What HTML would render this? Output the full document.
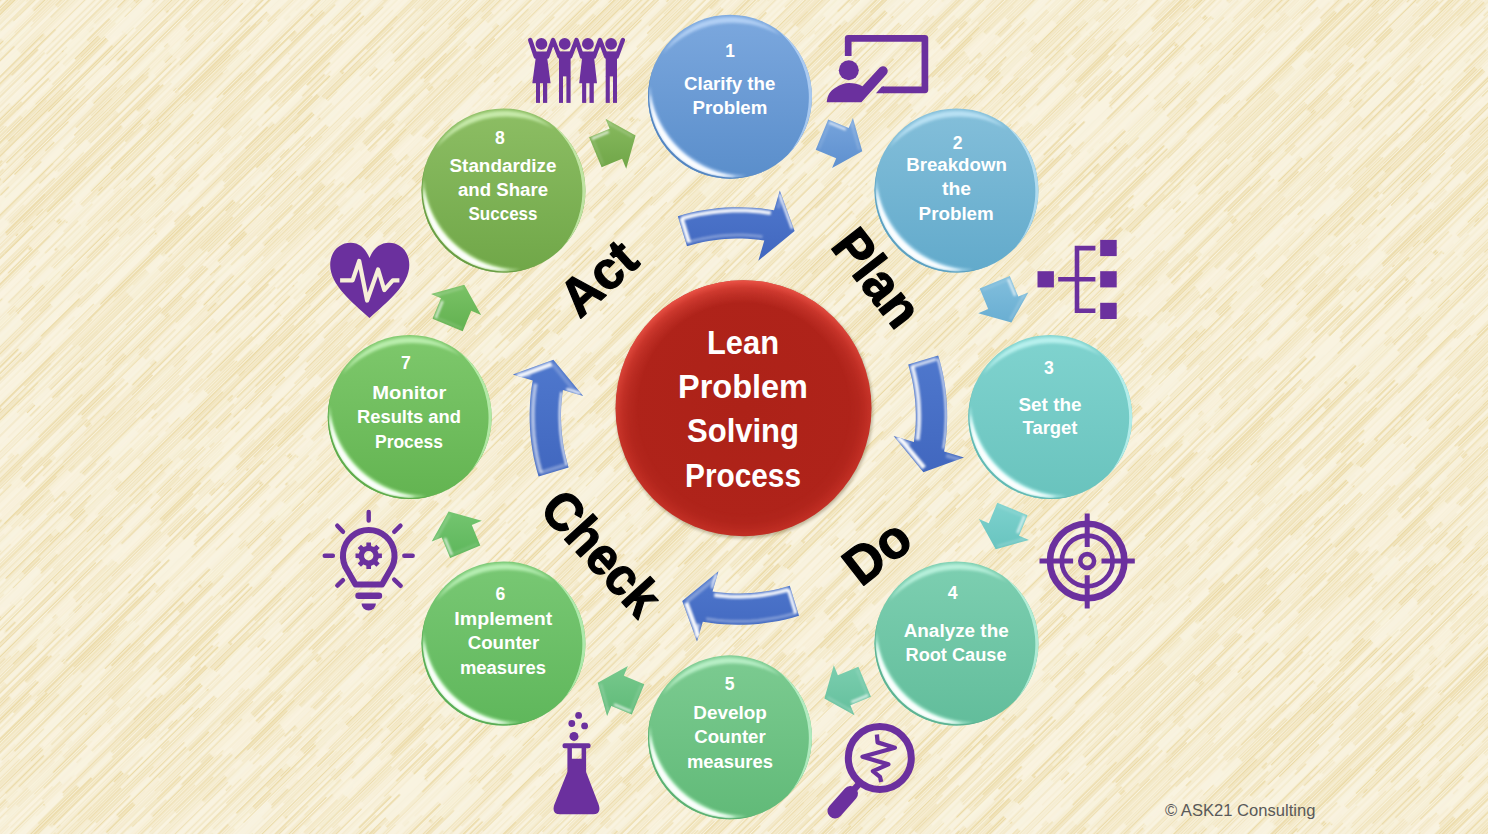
<!DOCTYPE html>
<html lang="en"><head><meta charset="utf-8"><title>Lean Problem Solving Process</title>
<style>html,body{margin:0;padding:0;background:#F9F3E0;overflow:hidden}svg{display:block}</style></head>
<body>
<svg width="1488" height="834" viewBox="0 0 1488 834">
<defs><pattern id="bgp" patternUnits="userSpaceOnUse" width="480" height="329" patternTransform="rotate(-44.5)"><g fill="#EBDAA6"><rect x="259.5" y="0" width="47.7" height="1.5" opacity="0.2"/><rect x="307.2" y="0" width="137" height="1.3" opacity="0.5"/><rect x="444.2" y="0" width="35.8" height="1.3" opacity="0.85"/><rect x="0" y="0" width="14.2" height="1.3" opacity="0.85"/><rect x="14.2" y="0" width="77.1" height="1.3" opacity="0.85"/><rect x="91.4" y="0" width="64.1" height="1.3" opacity="0.2"/><rect x="302.7" y="2.4" width="136" height="1.3" opacity="0.85"/><rect x="164.5" y="2.4" width="132.4" height="1.5" opacity="0.35"/><rect x="297" y="2.4" width="5.7" height="1.7" opacity="0.2"/><rect x="148.1" y="4.7" width="53" height="1.5" opacity="0.5"/><rect x="201.1" y="4.7" width="52.1" height="1.7" opacity="0.2"/><rect x="253.2" y="4.7" width="45.4" height="1.5" opacity="0.5"/><rect x="298.6" y="4.7" width="154.1" height="1.5" opacity="0.85"/><rect x="452.7" y="4.7" width="27.3" height="1.5" opacity="1.0"/><rect x="0" y="4.7" width="89.1" height="1.5" opacity="1.0"/><rect x="89.1" y="4.7" width="58.9" height="1.7" opacity="0.35"/><rect x="374.3" y="7.1" width="105.7" height="1.5" opacity="1.0"/><rect x="0" y="7.1" width="29.8" height="1.5" opacity="1.0"/><rect x="29.8" y="7.1" width="162.7" height="1.7" opacity="0.6"/><rect x="192.5" y="7.1" width="181.8" height="1.7" opacity="0.2"/><rect x="200.7" y="9.4" width="61.6" height="1.5" opacity="1.0"/><rect x="262.3" y="9.4" width="41.9" height="1.7" opacity="0.3"/><rect x="304.2" y="9.4" width="135.3" height="1.5" opacity="0.8"/><rect x="439.4" y="9.4" width="40.6" height="1.7" opacity="1.0"/><rect x="0" y="9.4" width="116.1" height="1.7" opacity="1.0"/><rect x="116.1" y="9.4" width="84.6" height="1.3" opacity="0.3"/><rect x="453.4" y="11.8" width="26.6" height="1.3" opacity="0.35"/><rect x="0" y="11.8" width="130.4" height="1.3" opacity="0.35"/><rect x="130.4" y="11.8" width="163" height="1.7" opacity="0.75"/><rect x="293.4" y="11.8" width="136.1" height="1.5" opacity="1.0"/><rect x="429.5" y="11.8" width="23.9" height="1.3" opacity="0.85"/><rect x="451.5" y="14.1" width="28.5" height="1.5" opacity="0.3"/><rect x="0" y="14.1" width="35.9" height="1.5" opacity="0.3"/><rect x="35.9" y="14.1" width="45.3" height="1.3" opacity="0.7"/><rect x="81.2" y="14.1" width="164.2" height="1.5" opacity="0.95"/><rect x="245.5" y="14.1" width="195.4" height="1.3" opacity="1.0"/><rect x="440.9" y="14.1" width="10.6" height="1.7" opacity="0.95"/><rect x="133.4" y="16.4" width="178.4" height="1.7" opacity="0.6"/><rect x="311.7" y="16.4" width="107.7" height="1.7" opacity="0.7"/><rect x="419.4" y="16.4" width="60.6" height="1.3" opacity="0.5"/><rect x="0" y="16.4" width="129.1" height="1.3" opacity="0.5"/><rect x="129.1" y="16.4" width="4.2" height="1.3" opacity="0.35"/><rect x="316.1" y="18.8" width="119.9" height="1.5" opacity="0.35"/><rect x="436" y="18.8" width="44" height="1.5" opacity="0.35"/><rect x="0" y="18.8" width="40.3" height="1.5" opacity="0.35"/><rect x="40.3" y="18.8" width="128.6" height="1.3" opacity="0.7"/><rect x="219.2" y="21.2" width="104.7" height="1.3" opacity="1.0"/><rect x="323.9" y="21.2" width="119.3" height="1.3" opacity="1.0"/><rect x="443.1" y="21.2" width="36.9" height="1.5" opacity="0.65"/><rect x="0" y="21.2" width="31.5" height="1.5" opacity="0.65"/><rect x="31.5" y="21.2" width="63.4" height="1.7" opacity="0.85"/><rect x="139.1" y="21.2" width="80.1" height="1.5" opacity="0.35"/><rect x="294.6" y="23.5" width="185.4" height="1.3" opacity="0.85"/><rect x="0" y="23.5" width="2.6" height="1.3" opacity="0.85"/><rect x="2.6" y="23.5" width="146" height="1.7" opacity="0.7"/><rect x="148.6" y="23.5" width="98.7" height="1.3" opacity="0.2"/><rect x="247.4" y="23.5" width="47.2" height="1.5" opacity="1.0"/><rect x="232.2" y="25.9" width="60.2" height="1.7" opacity="0.7"/><rect x="292.5" y="25.9" width="81.3" height="1.7" opacity="0.35"/><rect x="373.8" y="25.9" width="39" height="1.3" opacity="0.7"/><rect x="88.6" y="25.9" width="143.6" height="1.7" opacity="0.6"/><rect x="414.4" y="28.2" width="65.6" height="1.5" opacity="0.45"/><rect x="0" y="28.2" width="60.1" height="1.5" opacity="0.45"/><rect x="60.1" y="28.2" width="170.1" height="1.7" opacity="0.8"/><rect x="230.2" y="28.2" width="74" height="1.3" opacity="0.6"/><rect x="304.2" y="28.2" width="110.2" height="1.3" opacity="0.6"/><rect x="411.4" y="30.6" width="68.6" height="1.5" opacity="1.0"/><rect x="0" y="30.6" width="104.7" height="1.5" opacity="1.0"/><rect x="104.7" y="30.6" width="68.9" height="1.5" opacity="0.8"/><rect x="173.6" y="30.6" width="74.9" height="1.5" opacity="0.8"/><rect x="38.7" y="32.9" width="74.7" height="1.5" opacity="0.5"/><rect x="184.1" y="32.9" width="118.9" height="1.7" opacity="0.7"/><rect x="303" y="32.9" width="49.8" height="1.5" opacity="0.2"/><rect x="352.9" y="32.9" width="127.1" height="1.5" opacity="0.5"/><rect x="0" y="32.9" width="38.7" height="1.5" opacity="0.5"/><rect x="426.7" y="35.2" width="53.3" height="1.3" opacity="0.85"/><rect x="0" y="35.2" width="119.8" height="1.3" opacity="0.85"/><rect x="119.8" y="35.2" width="175.1" height="1.5" opacity="1.0"/><rect x="295" y="35.2" width="105.2" height="1.7" opacity="0.35"/><rect x="400.2" y="35.2" width="26.5" height="1.3" opacity="0.5"/><rect x="72.6" y="37.6" width="176.1" height="1.7" opacity="0.5"/><rect x="248.7" y="37.6" width="179.6" height="1.7" opacity="1.0"/><rect x="428.3" y="37.6" width="51.7" height="1.7" opacity="0.5"/><rect x="0" y="37.6" width="72.6" height="1.7" opacity="0.5"/><rect x="263.2" y="40" width="37.5" height="1.7" opacity="0.2"/><rect x="300.7" y="40" width="166.2" height="1.5" opacity="0.35"/><rect x="466.8" y="40" width="13.2" height="1.3" opacity="0.5"/><rect x="0" y="40" width="194.5" height="1.3" opacity="0.5"/><rect x="194.5" y="40" width="39.9" height="1.5" opacity="0.5"/><rect x="234.4" y="40" width="28.8" height="1.5" opacity="0.7"/><rect x="261.3" y="42.3" width="45.7" height="1.5" opacity="0.7"/><rect x="306.9" y="42.3" width="150.9" height="1.7" opacity="0.85"/><rect x="457.9" y="42.3" width="22.1" height="1.7" opacity="0.35"/><rect x="0" y="42.3" width="35.8" height="1.7" opacity="0.35"/><rect x="35.8" y="42.3" width="124.3" height="1.3" opacity="1.0"/><rect x="160.1" y="42.3" width="101.2" height="1.3" opacity="0.35"/><rect x="67.9" y="44.6" width="132.4" height="1.7" opacity="0.7"/><rect x="200.3" y="44.6" width="125.7" height="1.3" opacity="1.0"/><rect x="35.6" y="44.6" width="32.3" height="1.3" opacity="0.6"/><rect x="370.7" y="47" width="109.3" height="1.5" opacity="0.35"/><rect x="0" y="47" width="24" height="1.5" opacity="0.35"/><rect x="24" y="47" width="92" height="1.7" opacity="0.65"/><rect x="116" y="47" width="83.5" height="1.7" opacity="1.0"/><rect x="199.5" y="47" width="171.2" height="1.7" opacity="0.75"/><rect x="428.5" y="49.4" width="51.5" height="1.5" opacity="0.35"/><rect x="0" y="49.4" width="130.5" height="1.5" opacity="0.35"/><rect x="130.5" y="49.4" width="56.3" height="1.5" opacity="1.0"/><rect x="186.8" y="49.4" width="47.7" height="1.5" opacity="0.5"/><rect x="234.5" y="49.4" width="47.8" height="1.3" opacity="0.6"/><rect x="282.3" y="49.4" width="146.2" height="1.7" opacity="0.35"/><rect x="308.9" y="51.7" width="60" height="1.5" opacity="0.45"/><rect x="368.9" y="51.7" width="73.4" height="1.5" opacity="0.3"/><rect x="442.3" y="51.7" width="37.7" height="1.7" opacity="0.45"/><rect x="0" y="51.7" width="152.2" height="1.7" opacity="0.45"/><rect x="152.2" y="51.7" width="156.7" height="1.7" opacity="0.45"/><rect x="207.1" y="54.1" width="94.3" height="1.5" opacity="0.65"/><rect x="301.5" y="54.1" width="90.7" height="1.3" opacity="0.85"/><rect x="392.2" y="54.1" width="87.8" height="1.5" opacity="1.0"/><rect x="0" y="54.1" width="6.4" height="1.5" opacity="1.0"/><rect x="6.4" y="54.1" width="158.1" height="1.5" opacity="1.0"/><rect x="164.4" y="54.1" width="42.7" height="1.7" opacity="0.75"/><rect x="461.2" y="56.4" width="18.8" height="1.3" opacity="0.5"/><rect x="0" y="56.4" width="188.6" height="1.3" opacity="0.5"/><rect x="188.6" y="56.4" width="49.7" height="1.3" opacity="0.6"/><rect x="238.3" y="56.4" width="193.5" height="1.5" opacity="0.35"/><rect x="431.8" y="56.4" width="29.4" height="1.7" opacity="0.85"/><rect x="393.1" y="58.8" width="86.9" height="1.7" opacity="1.0"/><rect x="0" y="58.8" width="19.2" height="1.7" opacity="1.0"/><rect x="19.2" y="58.8" width="92.2" height="1.3" opacity="0.7"/><rect x="111.4" y="58.8" width="174.9" height="1.5" opacity="0.45"/><rect x="286.3" y="58.8" width="106.8" height="1.3" opacity="0.7"/><rect x="304.5" y="61.1" width="49.7" height="1.3" opacity="0.6"/><rect x="354.2" y="61.1" width="81.3" height="1.5" opacity="0.3"/><rect x="435.5" y="61.1" width="37" height="1.5" opacity="0.95"/><rect x="136.3" y="61.1" width="127.2" height="1.3" opacity="0.6"/><rect x="263.5" y="61.1" width="41" height="1.3" opacity="0.7"/><rect x="87" y="63.5" width="145" height="1.5" opacity="0.6"/><rect x="232" y="63.5" width="113" height="1.5" opacity="0.45"/><rect x="7.4" y="65.8" width="125" height="1.5" opacity="0.5"/><rect x="132.4" y="65.8" width="53.6" height="1.7" opacity="0.85"/><rect x="186" y="65.8" width="121.6" height="1.7" opacity="0.85"/><rect x="307.6" y="65.8" width="88.9" height="1.3" opacity="0.5"/><rect x="396.4" y="65.8" width="83.6" height="1.5" opacity="0.35"/><rect x="0" y="65.8" width="7.4" height="1.5" opacity="0.35"/><rect x="176.4" y="68.2" width="47.4" height="1.5" opacity="0.6"/><rect x="223.8" y="68.2" width="63.6" height="1.7" opacity="0.2"/><rect x="287.3" y="68.2" width="182.2" height="1.7" opacity="0.6"/><rect x="469.6" y="68.2" width="5.4" height="1.3" opacity="0.6"/><rect x="302.6" y="70.5" width="81.1" height="1.7" opacity="0.7"/><rect x="475.3" y="70.5" width="4.7" height="1.3" opacity="0.6"/><rect x="0" y="70.5" width="199.3" height="1.3" opacity="0.6"/><rect x="161" y="72.9" width="118.1" height="1.3" opacity="0.5"/><rect x="402.4" y="72.9" width="50.9" height="1.3" opacity="0.2"/><rect x="78.2" y="72.9" width="82.8" height="1.5" opacity="0.6"/><rect x="302.2" y="75.2" width="137.5" height="1.7" opacity="0.35"/><rect x="439.7" y="75.2" width="40.3" height="1.5" opacity="0.85"/><rect x="0" y="75.2" width="151" height="1.5" opacity="0.85"/><rect x="151" y="75.2" width="151.3" height="1.3" opacity="1.0"/><rect x="136.4" y="77.5" width="42.7" height="1.7" opacity="0.85"/><rect x="179.1" y="77.5" width="157.7" height="1.7" opacity="0.35"/><rect x="23.5" y="77.5" width="112.9" height="1.3" opacity="0.5"/><rect x="15" y="79.9" width="146.5" height="1.5" opacity="0.2"/><rect x="342.7" y="79.9" width="137.3" height="1.5" opacity="0.5"/><rect x="0" y="79.9" width="7.6" height="1.5" opacity="0.5"/><rect x="7.6" y="79.9" width="7.4" height="1.3" opacity="1.0"/><rect x="359.2" y="82.2" width="120.8" height="1.7" opacity="0.2"/><rect x="0" y="82.2" width="29.5" height="1.7" opacity="0.2"/><rect x="29.5" y="82.2" width="163.9" height="1.3" opacity="0.6"/><rect x="193.5" y="82.2" width="165.7" height="1.7" opacity="0.5"/><rect x="363.1" y="84.6" width="116.9" height="1.5" opacity="1.0"/><rect x="0" y="84.6" width="47.6" height="1.5" opacity="1.0"/><rect x="47.6" y="84.6" width="183" height="1.5" opacity="0.2"/><rect x="230.5" y="84.6" width="132.6" height="1.3" opacity="0.6"/><rect x="296.1" y="87" width="48.6" height="1.5" opacity="0.35"/><rect x="344.7" y="87" width="79.4" height="1.7" opacity="0.6"/><rect x="78.5" y="87" width="119.4" height="1.5" opacity="1.0"/><rect x="197.9" y="87" width="98.2" height="1.7" opacity="0.2"/><rect x="104.5" y="89.3" width="85.9" height="1.5" opacity="0.75"/><rect x="190.4" y="89.3" width="116.5" height="1.7" opacity="0.35"/><rect x="306.9" y="89.3" width="69.9" height="1.5" opacity="0.35"/><rect x="376.8" y="89.3" width="38.1" height="1.3" opacity="1.0"/><rect x="414.9" y="89.3" width="65.1" height="1.5" opacity="1.0"/><rect x="0" y="89.3" width="104.5" height="1.5" opacity="1.0"/><rect x="185.7" y="91.7" width="48.1" height="1.3" opacity="0.2"/><rect x="233.7" y="91.7" width="165.8" height="1.5" opacity="0.6"/><rect x="399.6" y="91.7" width="58.2" height="1.3" opacity="0.6"/><rect x="457.8" y="91.7" width="22.2" height="1.5" opacity="0.5"/><rect x="0" y="91.7" width="135.8" height="1.5" opacity="0.5"/><rect x="135.8" y="91.7" width="49.8" height="1.5" opacity="1.0"/><rect x="11.9" y="94" width="201.2" height="1.5" opacity="1.0"/><rect x="213.2" y="94" width="87.8" height="1.5" opacity="0.35"/><rect x="301" y="94" width="95.2" height="1.3" opacity="0.7"/><rect x="155.8" y="96.4" width="181.8" height="1.3" opacity="0.3"/><rect x="337.6" y="96.4" width="142.4" height="1.5" opacity="0.7"/><rect x="0" y="96.4" width="17.4" height="1.5" opacity="0.7"/><rect x="17.4" y="96.4" width="100.1" height="1.5" opacity="0.95"/><rect x="117.5" y="96.4" width="38.2" height="1.5" opacity="0.3"/><rect x="444.2" y="98.7" width="35.8" height="1.3" opacity="0.7"/><rect x="0" y="98.7" width="148.7" height="1.3" opacity="0.7"/><rect x="148.7" y="98.7" width="44" height="1.7" opacity="0.7"/><rect x="192.7" y="98.7" width="198.7" height="1.5" opacity="0.6"/><rect x="391.5" y="98.7" width="52.7" height="1.3" opacity="0.8"/><rect x="371.1" y="101" width="108.9" height="1.7" opacity="1.0"/><rect x="0" y="101" width="80.9" height="1.7" opacity="1.0"/><rect x="80.9" y="101" width="131.1" height="1.3" opacity="0.35"/><rect x="212" y="101" width="159.1" height="1.5" opacity="1.0"/><rect x="295.2" y="103.4" width="147.8" height="1.5" opacity="0.6"/><rect x="442.9" y="103.4" width="37.1" height="1.3" opacity="0.35"/><rect x="0" y="103.4" width="6.5" height="1.3" opacity="0.35"/><rect x="6.5" y="103.4" width="117.6" height="1.5" opacity="0.7"/><rect x="124.1" y="103.4" width="87.1" height="1.5" opacity="0.6"/><rect x="211.3" y="103.4" width="83.9" height="1.5" opacity="0.6"/><rect x="267.5" y="105.8" width="56" height="1.3" opacity="0.5"/><rect x="323.5" y="105.8" width="71.4" height="1.7" opacity="1.0"/><rect x="394.8" y="105.8" width="73.5" height="1.5" opacity="0.85"/><rect x="468.4" y="105.8" width="11.6" height="1.3" opacity="0.65"/><rect x="0" y="105.8" width="98.2" height="1.3" opacity="0.65"/><rect x="98.2" y="105.8" width="50.9" height="1.7" opacity="0.85"/><rect x="149" y="105.8" width="50.9" height="1.5" opacity="0.65"/><rect x="200" y="105.8" width="67.5" height="1.3" opacity="0.65"/><rect x="359.8" y="108.1" width="102" height="1.5" opacity="0.65"/><rect x="64.1" y="108.1" width="122.2" height="1.3" opacity="0.85"/><rect x="186.3" y="108.1" width="155.2" height="1.3" opacity="0.65"/><rect x="341.5" y="108.1" width="18.4" height="1.5" opacity="0.65"/><rect x="191.9" y="110.5" width="110.6" height="1.3" opacity="0.75"/><rect x="302.5" y="110.5" width="57.3" height="1.7" opacity="1.0"/><rect x="359.7" y="110.5" width="120.3" height="1.7" opacity="1.0"/><rect x="0" y="110.5" width="48.4" height="1.7" opacity="1.0"/><rect x="48.4" y="110.5" width="120.7" height="1.5" opacity="0.35"/><rect x="169.1" y="110.5" width="22.8" height="1.5" opacity="1.0"/><rect x="119.3" y="112.8" width="74.2" height="1.7" opacity="0.35"/><rect x="193.4" y="112.8" width="205.1" height="1.7" opacity="0.2"/><rect x="398.5" y="112.8" width="81.5" height="1.3" opacity="1.0"/><rect x="0" y="112.8" width="76.2" height="1.3" opacity="1.0"/><rect x="76.4" y="115.2" width="148" height="1.3" opacity="0.6"/><rect x="224.3" y="115.2" width="144.6" height="1.7" opacity="0.85"/><rect x="369" y="115.2" width="111" height="1.3" opacity="0.2"/><rect x="0" y="115.2" width="0.7" height="1.3" opacity="0.2"/><rect x="144.2" y="117.5" width="102.9" height="1.7" opacity="0.5"/><rect x="247.1" y="117.5" width="35.2" height="1.5" opacity="0.6"/><rect x="282.3" y="117.5" width="83.8" height="1.7" opacity="0.7"/><rect x="366" y="117.5" width="114" height="1.5" opacity="0.5"/><rect x="0" y="117.5" width="67.9" height="1.5" opacity="0.5"/><rect x="67.9" y="117.5" width="76.2" height="1.3" opacity="0.5"/><rect x="461.1" y="119.9" width="18.9" height="1.5" opacity="0.6"/><rect x="0" y="119.9" width="25.8" height="1.5" opacity="0.6"/><rect x="25.8" y="119.9" width="189.8" height="1.3" opacity="0.95"/><rect x="215.6" y="119.9" width="80" height="1.5" opacity="0.95"/><rect x="370.3" y="119.9" width="90.8" height="1.5" opacity="0.95"/><rect x="327.6" y="122.2" width="36.2" height="1.7" opacity="0.6"/><rect x="363.8" y="122.2" width="116.2" height="1.3" opacity="0.2"/><rect x="0" y="122.2" width="66.7" height="1.3" opacity="0.2"/><rect x="66.7" y="122.2" width="121.7" height="1.5" opacity="0.5"/><rect x="188.5" y="122.2" width="139.2" height="1.3" opacity="0.5"/><rect x="223.3" y="124.6" width="168.1" height="1.3" opacity="0.7"/><rect x="391.3" y="124.6" width="88.7" height="1.7" opacity="1.0"/><rect x="0" y="124.6" width="112.9" height="1.7" opacity="1.0"/><rect x="112.9" y="124.6" width="67.8" height="1.5" opacity="0.6"/><rect x="171.7" y="126.9" width="72.3" height="1.5" opacity="0.35"/><rect x="288.1" y="126.9" width="67.2" height="1.7" opacity="1.0"/><rect x="355.3" y="126.9" width="100.1" height="1.3" opacity="0.2"/><rect x="447.2" y="129.2" width="32.8" height="1.3" opacity="1.0"/><rect x="0" y="129.2" width="35.5" height="1.3" opacity="1.0"/><rect x="35.5" y="129.2" width="89.6" height="1.5" opacity="0.95"/><rect x="125.1" y="129.2" width="207.4" height="1.3" opacity="1.0"/><rect x="332.5" y="129.2" width="54.1" height="1.5" opacity="0.3"/><rect x="386.5" y="129.2" width="49.1" height="1.3" opacity="0.95"/><rect x="435.7" y="129.2" width="11.5" height="1.5" opacity="0.6"/><rect x="171.2" y="131.6" width="178.9" height="1.3" opacity="0.95"/><rect x="350" y="131.6" width="43.6" height="1.3" opacity="1.0"/><rect x="393.7" y="131.6" width="86.3" height="1.3" opacity="1.0"/><rect x="0" y="131.6" width="13.9" height="1.3" opacity="1.0"/><rect x="13.9" y="131.6" width="91.6" height="1.3" opacity="1.0"/><rect x="105.5" y="131.6" width="65.7" height="1.7" opacity="0.6"/><rect x="368" y="134" width="100.7" height="1.3" opacity="1.0"/><rect x="164.3" y="134" width="80" height="1.7" opacity="0.2"/><rect x="244.3" y="134" width="94.3" height="1.5" opacity="0.6"/><rect x="125.8" y="136.3" width="196.7" height="1.3" opacity="0.7"/><rect x="322.6" y="136.3" width="157.4" height="1.3" opacity="0.3"/><rect x="0" y="136.3" width="3.9" height="1.3" opacity="0.3"/><rect x="3.9" y="136.3" width="122" height="1.5" opacity="0.3"/><rect x="343.5" y="138.7" width="136.5" height="1.5" opacity="1.0"/><rect x="0" y="138.7" width="65.4" height="1.5" opacity="1.0"/><rect x="65.4" y="138.7" width="194.9" height="1.3" opacity="1.0"/><rect x="260.3" y="138.7" width="83.2" height="1.3" opacity="0.5"/><rect x="385.2" y="141" width="94.8" height="1.7" opacity="0.45"/><rect x="0" y="141" width="84.2" height="1.7" opacity="0.45"/><rect x="84.2" y="141" width="76.3" height="1.5" opacity="0.8"/><rect x="160.5" y="141" width="98.3" height="1.7" opacity="0.3"/><rect x="258.9" y="141" width="69.5" height="1.3" opacity="0.45"/><rect x="231.2" y="143.3" width="63.1" height="1.3" opacity="0.95"/><rect x="294.3" y="143.3" width="185.7" height="1.7" opacity="0.7"/><rect x="0" y="143.3" width="22.2" height="1.7" opacity="0.7"/><rect x="22.2" y="143.3" width="49.7" height="1.5" opacity="0.3"/><rect x="71.9" y="143.3" width="122.2" height="1.3" opacity="1.0"/><rect x="194.1" y="143.3" width="37.1" height="1.5" opacity="0.95"/><rect x="297.7" y="145.7" width="165.9" height="1.5" opacity="0.2"/><rect x="463.6" y="145.7" width="16.4" height="1.5" opacity="0.6"/><rect x="0" y="145.7" width="70.1" height="1.5" opacity="0.6"/><rect x="70.1" y="145.7" width="79.5" height="1.3" opacity="0.6"/><rect x="149.5" y="145.7" width="111.9" height="1.3" opacity="0.35"/><rect x="261.4" y="145.7" width="36.3" height="1.7" opacity="0.6"/><rect x="90.4" y="148.1" width="104.3" height="1.7" opacity="0.5"/><rect x="194.7" y="148.1" width="127.1" height="1.7" opacity="0.2"/><rect x="438" y="148.1" width="42" height="1.3" opacity="1.0"/><rect x="0" y="148.1" width="10.9" height="1.3" opacity="1.0"/><rect x="10.9" y="148.1" width="79.5" height="1.3" opacity="0.7"/><rect x="420.9" y="150.4" width="55.9" height="1.7" opacity="0.5"/><rect x="476.8" y="150.4" width="3.2" height="1.3" opacity="0.5"/><rect x="0" y="150.4" width="202" height="1.3" opacity="0.5"/><rect x="202" y="150.4" width="100.1" height="1.5" opacity="0.35"/><rect x="50.8" y="152.8" width="73.1" height="1.5" opacity="0.8"/><rect x="123.9" y="152.8" width="59.7" height="1.5" opacity="0.6"/><rect x="183.6" y="152.8" width="41.7" height="1.3" opacity="0.6"/><rect x="225.3" y="152.8" width="178.3" height="1.7" opacity="0.95"/><rect x="403.6" y="152.8" width="76.4" height="1.3" opacity="0.7"/><rect x="0" y="152.8" width="23.7" height="1.3" opacity="0.7"/><rect x="23.7" y="152.8" width="27.1" height="1.7" opacity="1.0"/><rect x="232.1" y="155.1" width="52.7" height="1.7" opacity="1.0"/><rect x="284.8" y="155.1" width="131.3" height="1.7" opacity="0.35"/><rect x="416.1" y="155.1" width="63.6" height="1.5" opacity="0.75"/><rect x="0" y="155.1" width="207.7" height="1.5" opacity="0.75"/><rect x="207.7" y="155.1" width="24.4" height="1.7" opacity="0.75"/><rect x="379.4" y="157.5" width="100.6" height="1.7" opacity="0.8"/><rect x="0" y="157.5" width="85.6" height="1.7" opacity="0.8"/><rect x="85.6" y="157.5" width="69.5" height="1.3" opacity="0.95"/><rect x="155.1" y="157.5" width="116.8" height="1.3" opacity="0.95"/><rect x="203.4" y="159.8" width="106.1" height="1.5" opacity="0.7"/><rect x="309.5" y="159.8" width="170.3" height="1.3" opacity="0.35"/><rect x="0" y="159.8" width="43.8" height="1.7" opacity="0.35"/><rect x="43.8" y="159.8" width="159.6" height="1.3" opacity="0.85"/><rect x="275" y="162.2" width="164" height="1.3" opacity="0.45"/><rect x="439" y="162.2" width="41" height="1.7" opacity="0.45"/><rect x="0" y="162.2" width="54.9" height="1.7" opacity="0.45"/><rect x="54.9" y="162.2" width="65.1" height="1.3" opacity="0.3"/><rect x="119.9" y="162.2" width="102.2" height="1.5" opacity="0.6"/><rect x="468.3" y="164.5" width="11.7" height="1.3" opacity="1.0"/><rect x="0" y="164.5" width="78.3" height="1.3" opacity="1.0"/><rect x="78.3" y="164.5" width="193.2" height="1.7" opacity="0.5"/><rect x="271.5" y="164.5" width="172.5" height="1.7" opacity="0.65"/><rect x="444.1" y="164.5" width="24.2" height="1.5" opacity="0.65"/><rect x="87.8" y="166.8" width="42.3" height="1.5" opacity="0.35"/><rect x="130.1" y="166.8" width="97.9" height="1.3" opacity="0.35"/><rect x="228" y="166.8" width="204.9" height="1.3" opacity="0.5"/><rect x="320.6" y="169.2" width="55.6" height="1.7" opacity="1.0"/><rect x="376.2" y="169.2" width="103.8" height="1.7" opacity="0.7"/><rect x="0" y="169.2" width="79.8" height="1.7" opacity="0.7"/><rect x="79.8" y="169.2" width="108.5" height="1.5" opacity="0.6"/><rect x="188.3" y="169.2" width="103.1" height="1.5" opacity="0.8"/><rect x="291.4" y="169.2" width="29.2" height="1.3" opacity="0.45"/><rect x="1.7" y="171.6" width="116.4" height="1.7" opacity="1.0"/><rect x="118.1" y="171.6" width="171.5" height="1.3" opacity="1.0"/><rect x="289.6" y="171.6" width="176.8" height="1.3" opacity="1.0"/><rect x="466.4" y="171.6" width="13.6" height="1.5" opacity="0.85"/><rect x="0" y="171.6" width="1.7" height="1.5" opacity="0.85"/><rect x="298.6" y="173.9" width="42.1" height="1.3" opacity="0.5"/><rect x="340.7" y="173.9" width="139.3" height="1.7" opacity="0.85"/><rect x="0" y="173.9" width="57.1" height="1.7" opacity="0.85"/><rect x="361" y="176.2" width="119" height="1.3" opacity="0.5"/><rect x="0" y="176.2" width="30.2" height="1.3" opacity="0.5"/><rect x="30.2" y="176.2" width="185" height="1.3" opacity="0.35"/><rect x="215.2" y="176.2" width="58" height="1.5" opacity="1.0"/><rect x="273.2" y="176.2" width="87.7" height="1.7" opacity="0.5"/><rect x="378.4" y="178.6" width="46.5" height="1.7" opacity="0.7"/><rect x="424.9" y="178.6" width="55.1" height="1.5" opacity="0.35"/><rect x="0" y="178.6" width="112.2" height="1.5" opacity="0.35"/><rect x="112.2" y="178.6" width="191.9" height="1.5" opacity="0.6"/><rect x="304.1" y="178.6" width="60.1" height="1.3" opacity="1.0"/><rect x="364.2" y="178.6" width="14.2" height="1.5" opacity="0.5"/><rect x="178.7" y="181" width="66.9" height="1.7" opacity="0.35"/><rect x="245.6" y="181" width="198.9" height="1.5" opacity="0.7"/><rect x="444.4" y="181" width="35.6" height="1.3" opacity="0.6"/><rect x="0" y="181" width="29" height="1.3" opacity="0.6"/><rect x="305.4" y="183.3" width="174.6" height="1.7" opacity="1.0"/><rect x="0" y="183.3" width="29.5" height="1.7" opacity="1.0"/><rect x="29.5" y="183.3" width="126.3" height="1.5" opacity="0.3"/><rect x="155.8" y="183.3" width="149.7" height="1.7" opacity="0.95"/><rect x="382.9" y="185.7" width="97.1" height="1.7" opacity="0.8"/><rect x="0" y="185.7" width="3.6" height="1.7" opacity="0.8"/><rect x="3.6" y="185.7" width="60.6" height="1.3" opacity="0.8"/><rect x="64.2" y="185.7" width="112.4" height="1.7" opacity="0.45"/><rect x="341.7" y="185.7" width="41.1" height="1.5" opacity="0.7"/><rect x="470.1" y="188" width="9.9" height="1.7" opacity="0.7"/><rect x="0" y="188" width="63.9" height="1.7" opacity="0.7"/><rect x="63.9" y="188" width="144.5" height="1.7" opacity="0.95"/><rect x="244.5" y="190.3" width="134.2" height="1.3" opacity="0.6"/><rect x="378.7" y="190.3" width="101.3" height="1.5" opacity="0.5"/><rect x="0" y="190.3" width="25.2" height="1.5" opacity="0.5"/><rect x="25.2" y="190.3" width="38.1" height="1.3" opacity="0.35"/><rect x="238.6" y="192.7" width="198.9" height="1.7" opacity="0.65"/><rect x="437.5" y="192.7" width="42.5" height="1.3" opacity="0.35"/><rect x="0" y="192.7" width="18.6" height="1.3" opacity="0.35"/><rect x="18.6" y="192.7" width="146.7" height="1.5" opacity="0.75"/><rect x="26.9" y="195.1" width="139.1" height="1.7" opacity="1.0"/><rect x="166" y="195.1" width="199" height="1.3" opacity="1.0"/><rect x="471.6" y="195.1" width="8.4" height="1.3" opacity="0.6"/><rect x="0" y="195.1" width="26.9" height="1.3" opacity="0.6"/><rect x="28" y="197.4" width="37.2" height="1.3" opacity="0.5"/><rect x="65.2" y="197.4" width="107.3" height="1.7" opacity="0.85"/><rect x="172.5" y="197.4" width="65.6" height="1.3" opacity="0.6"/><rect x="325.6" y="197.4" width="154.4" height="1.7" opacity="1.0"/><rect x="0" y="197.4" width="28" height="1.7" opacity="1.0"/><rect x="258.4" y="199.8" width="182.8" height="1.3" opacity="1.0"/><rect x="441.2" y="199.8" width="38.8" height="1.3" opacity="1.0"/><rect x="0" y="199.8" width="126" height="1.3" opacity="1.0"/><rect x="126" y="199.8" width="74.5" height="1.5" opacity="0.35"/><rect x="59.2" y="202.1" width="159.5" height="1.7" opacity="0.7"/><rect x="218.7" y="202.1" width="131.9" height="1.7" opacity="0.95"/><rect x="350.6" y="202.1" width="129.4" height="1.5" opacity="0.7"/><rect x="0" y="202.1" width="43.6" height="1.5" opacity="0.7"/><rect x="43.6" y="202.1" width="15.6" height="1.3" opacity="0.6"/><rect x="422.4" y="204.5" width="57.6" height="1.7" opacity="0.5"/><rect x="0" y="204.5" width="7.1" height="1.7" opacity="0.5"/><rect x="7.1" y="204.5" width="70.5" height="1.7" opacity="0.35"/><rect x="77.6" y="204.5" width="195.1" height="1.5" opacity="0.5"/><rect x="272.7" y="204.5" width="92.5" height="1.5" opacity="0.5"/><rect x="365.2" y="204.5" width="57.2" height="1.5" opacity="1.0"/><rect x="403.1" y="206.8" width="76.9" height="1.7" opacity="0.85"/><rect x="0" y="206.8" width="108.1" height="1.7" opacity="0.85"/><rect x="108.1" y="206.8" width="75.9" height="1.3" opacity="0.6"/><rect x="184" y="206.8" width="103.5" height="1.7" opacity="0.2"/><rect x="287.6" y="206.8" width="115.5" height="1.3" opacity="0.35"/><rect x="12.9" y="209.2" width="143.8" height="1.5" opacity="0.35"/><rect x="362.8" y="209.2" width="40.4" height="1.7" opacity="0.35"/><rect x="334.6" y="211.5" width="46.5" height="1.3" opacity="0.7"/><rect x="381.1" y="211.5" width="98.9" height="1.7" opacity="0.2"/><rect x="0" y="211.5" width="79.1" height="1.7" opacity="0.2"/><rect x="79.1" y="211.5" width="200.3" height="1.3" opacity="0.2"/><rect x="279.4" y="211.5" width="55.2" height="1.3" opacity="0.2"/><rect x="16.5" y="213.8" width="179.4" height="1.5" opacity="0.6"/><rect x="195.9" y="213.8" width="52.5" height="1.7" opacity="0.2"/><rect x="248.4" y="213.8" width="70.9" height="1.5" opacity="0.7"/><rect x="428.4" y="213.8" width="51.6" height="1.3" opacity="0.6"/><rect x="0" y="213.8" width="16.5" height="1.3" opacity="0.6"/><rect x="343.6" y="216.2" width="136.4" height="1.5" opacity="1.0"/><rect x="0" y="216.2" width="57.9" height="1.5" opacity="1.0"/><rect x="305.2" y="218.6" width="129.1" height="1.7" opacity="0.5"/><rect x="434.3" y="218.6" width="45.7" height="1.7" opacity="0.2"/><rect x="0" y="218.6" width="140.2" height="1.7" opacity="0.2"/><rect x="140.2" y="218.6" width="69.3" height="1.5" opacity="0.35"/><rect x="86.1" y="220.9" width="35.8" height="1.3" opacity="1.0"/><rect x="121.8" y="220.9" width="121" height="1.5" opacity="0.35"/><rect x="242.9" y="220.9" width="138.7" height="1.7" opacity="0.6"/><rect x="381.6" y="220.9" width="98.4" height="1.3" opacity="0.6"/><rect x="0" y="220.9" width="0.6" height="1.3" opacity="0.6"/><rect x="450.4" y="223.2" width="29.6" height="1.7" opacity="0.2"/><rect x="0" y="223.2" width="92.6" height="1.7" opacity="0.2"/><rect x="92.6" y="223.2" width="169.2" height="1.7" opacity="1.0"/><rect x="261.8" y="223.2" width="133.2" height="1.7" opacity="0.2"/><rect x="395" y="223.2" width="55.4" height="1.5" opacity="0.2"/><rect x="74.6" y="225.6" width="100.1" height="1.5" opacity="0.6"/><rect x="174.6" y="225.6" width="109.9" height="1.5" opacity="0.35"/><rect x="284.6" y="225.6" width="161.1" height="1.5" opacity="0.5"/><rect x="60.9" y="228" width="96" height="1.7" opacity="0.7"/><rect x="156.9" y="228" width="62.2" height="1.7" opacity="1.0"/><rect x="219.1" y="228" width="131.9" height="1.3" opacity="0.7"/><rect x="351" y="228" width="116.1" height="1.7" opacity="0.6"/><rect x="467" y="228" width="13" height="1.5" opacity="0.7"/><rect x="0" y="228" width="60.9" height="1.5" opacity="0.7"/><rect x="308.5" y="230.3" width="123.8" height="1.5" opacity="0.6"/><rect x="432.3" y="230.3" width="47.7" height="1.7" opacity="0.35"/><rect x="0" y="230.3" width="119.4" height="1.7" opacity="0.35"/><rect x="119.4" y="230.3" width="62.3" height="1.7" opacity="0.5"/><rect x="181.7" y="230.3" width="92.1" height="1.3" opacity="0.7"/><rect x="273.9" y="230.3" width="34.6" height="1.5" opacity="0.5"/><rect x="468.1" y="232.7" width="11.9" height="1.3" opacity="0.2"/><rect x="0" y="232.7" width="51.9" height="1.3" opacity="0.2"/><rect x="51.9" y="232.7" width="102.2" height="1.5" opacity="0.35"/><rect x="154.1" y="232.7" width="163.3" height="1.5" opacity="0.85"/><rect x="317.4" y="232.7" width="69.3" height="1.5" opacity="0.2"/><rect x="386.8" y="232.7" width="71.1" height="1.5" opacity="0.85"/><rect x="457.9" y="232.7" width="10.2" height="1.5" opacity="0.85"/><rect x="332.9" y="235" width="116.1" height="1.5" opacity="0.45"/><rect x="448.9" y="235" width="31.1" height="1.3" opacity="0.95"/><rect x="0" y="235" width="109.6" height="1.3" opacity="0.95"/><rect x="109.6" y="235" width="164.7" height="1.7" opacity="0.95"/><rect x="274.2" y="235" width="58.6" height="1.3" opacity="0.95"/><rect x="320.6" y="237.4" width="153.9" height="1.5" opacity="0.2"/><rect x="474.5" y="237.4" width="5.5" height="1.7" opacity="0.6"/><rect x="0" y="237.4" width="105.2" height="1.7" opacity="0.6"/><rect x="105.2" y="237.4" width="157.6" height="1.3" opacity="0.85"/><rect x="262.8" y="237.4" width="57.8" height="1.5" opacity="0.35"/><rect x="407.7" y="239.7" width="72.3" height="1.7" opacity="1.0"/><rect x="0" y="239.7" width="42.4" height="1.7" opacity="1.0"/><rect x="42.4" y="239.7" width="153.2" height="1.7" opacity="0.5"/><rect x="288" y="239.7" width="103" height="1.3" opacity="1.0"/><rect x="391" y="239.7" width="16.7" height="1.3" opacity="0.65"/><rect x="343.8" y="242.1" width="125.9" height="1.7" opacity="0.2"/><rect x="469.6" y="242.1" width="10.4" height="1.7" opacity="0.5"/><rect x="0" y="242.1" width="104.6" height="1.7" opacity="0.5"/><rect x="222.8" y="242.1" width="120.9" height="1.7" opacity="0.7"/><rect x="164.6" y="244.4" width="71.8" height="1.5" opacity="0.5"/><rect x="236.3" y="244.4" width="124.9" height="1.7" opacity="0.35"/><rect x="361.2" y="244.4" width="118.8" height="1.7" opacity="0.85"/><rect x="0" y="244.4" width="88.5" height="1.7" opacity="0.85"/><rect x="88.5" y="244.4" width="44.9" height="1.5" opacity="0.75"/><rect x="36.1" y="246.8" width="145" height="1.7" opacity="0.85"/><rect x="181.1" y="246.8" width="81.4" height="1.5" opacity="0.65"/><rect x="262.5" y="246.8" width="164.8" height="1.5" opacity="0.65"/><rect x="427.2" y="246.8" width="52.8" height="1.3" opacity="0.5"/><rect x="0" y="246.8" width="36.1" height="1.3" opacity="0.5"/><rect x="446.1" y="249.1" width="33.9" height="1.5" opacity="0.5"/><rect x="0" y="249.1" width="142.8" height="1.5" opacity="0.5"/><rect x="142.8" y="249.1" width="147.4" height="1.3" opacity="0.5"/><rect x="290.2" y="249.1" width="96.8" height="1.5" opacity="0.85"/><rect x="387" y="249.1" width="59.1" height="1.5" opacity="0.35"/><rect x="170.3" y="251.5" width="81.8" height="1.7" opacity="0.85"/><rect x="252.1" y="251.5" width="79.4" height="1.7" opacity="0.85"/><rect x="399" y="251.5" width="81" height="1.5" opacity="0.6"/><rect x="0" y="251.5" width="94.9" height="1.5" opacity="0.6"/><rect x="94.9" y="251.5" width="75.3" height="1.5" opacity="0.6"/><rect x="230.2" y="253.8" width="144.1" height="1.7" opacity="0.35"/><rect x="374.3" y="253.8" width="105.7" height="1.5" opacity="0.5"/><rect x="0" y="253.8" width="86.3" height="1.5" opacity="0.5"/><rect x="40.9" y="256.2" width="172.2" height="1.7" opacity="0.45"/><rect x="393.6" y="256.2" width="86.4" height="1.3" opacity="0.6"/><rect x="0" y="256.2" width="40.9" height="1.3" opacity="0.6"/><rect x="314.9" y="258.5" width="141.4" height="1.3" opacity="0.45"/><rect x="456.3" y="258.5" width="23.7" height="1.5" opacity="1.0"/><rect x="0" y="258.5" width="43.8" height="1.5" opacity="1.0"/><rect x="43.8" y="258.5" width="172.4" height="1.5" opacity="0.6"/><rect x="216.1" y="258.5" width="98.7" height="1.7" opacity="0.45"/><rect x="427.7" y="260.9" width="52.3" height="1.3" opacity="0.6"/><rect x="0" y="260.9" width="99.7" height="1.3" opacity="0.6"/><rect x="99.7" y="260.9" width="121.5" height="1.7" opacity="0.5"/><rect x="221.3" y="260.9" width="48.8" height="1.7" opacity="1.0"/><rect x="270" y="260.9" width="157.7" height="1.5" opacity="0.2"/><rect x="319" y="263.2" width="119.8" height="1.7" opacity="0.35"/><rect x="438.7" y="263.2" width="41.3" height="1.3" opacity="1.0"/><rect x="0" y="263.2" width="79.7" height="1.3" opacity="1.0"/><rect x="77" y="265.6" width="116.9" height="1.7" opacity="1.0"/><rect x="193.9" y="265.6" width="86.9" height="1.5" opacity="1.0"/><rect x="280.8" y="265.6" width="109.5" height="1.3" opacity="0.3"/><rect x="327.6" y="267.9" width="152.4" height="1.7" opacity="0.3"/><rect x="0" y="267.9" width="24.1" height="1.7" opacity="0.3"/><rect x="24.1" y="267.9" width="119.7" height="1.3" opacity="0.45"/><rect x="143.9" y="267.9" width="72.3" height="1.7" opacity="0.95"/><rect x="216.2" y="267.9" width="57.2" height="1.7" opacity="0.3"/><rect x="273.4" y="267.9" width="54.2" height="1.7" opacity="1.0"/><rect x="266" y="270.2" width="84.7" height="1.5" opacity="0.7"/><rect x="429.7" y="270.2" width="50.3" height="1.5" opacity="0.6"/><rect x="0" y="270.2" width="129.4" height="1.5" opacity="0.6"/><rect x="129.4" y="270.2" width="136.6" height="1.5" opacity="0.85"/><rect x="241.8" y="272.6" width="187.8" height="1.3" opacity="0.8"/><rect x="429.6" y="272.6" width="50.4" height="1.5" opacity="0.3"/><rect x="0" y="272.6" width="99.1" height="1.5" opacity="0.3"/><rect x="99.1" y="272.6" width="68.7" height="1.3" opacity="0.7"/><rect x="167.8" y="272.6" width="74" height="1.3" opacity="0.3"/><rect x="321.9" y="274.9" width="104.7" height="1.3" opacity="0.35"/><rect x="426.6" y="274.9" width="43.1" height="1.7" opacity="1.0"/><rect x="158.8" y="274.9" width="32.7" height="1.7" opacity="1.0"/><rect x="70.6" y="277.3" width="72.2" height="1.7" opacity="1.0"/><rect x="142.8" y="277.3" width="168.5" height="1.7" opacity="0.2"/><rect x="378" y="277.3" width="102" height="1.7" opacity="0.2"/><rect x="0" y="277.3" width="6.7" height="1.7" opacity="0.2"/><rect x="6.7" y="277.3" width="37.3" height="1.5" opacity="0.35"/><rect x="44.1" y="277.3" width="26.5" height="1.5" opacity="0.6"/><rect x="88.7" y="279.7" width="90.7" height="1.7" opacity="0.85"/><rect x="448.8" y="279.7" width="31.2" height="1.7" opacity="0.85"/><rect x="0" y="279.7" width="88.7" height="1.7" opacity="0.85"/><rect x="447.1" y="282" width="32.9" height="1.5" opacity="0.5"/><rect x="0" y="282" width="121.1" height="1.5" opacity="0.5"/><rect x="121.1" y="282" width="169.7" height="1.3" opacity="0.35"/><rect x="290.8" y="282" width="43.1" height="1.3" opacity="0.65"/><rect x="300.9" y="284.4" width="35.8" height="1.3" opacity="0.35"/><rect x="336.7" y="284.4" width="73.2" height="1.3" opacity="0.35"/><rect x="409.9" y="284.4" width="70.1" height="1.7" opacity="0.75"/><rect x="0" y="284.4" width="47.6" height="1.7" opacity="0.75"/><rect x="47.6" y="284.4" width="134.6" height="1.7" opacity="1.0"/><rect x="175.6" y="286.7" width="162.7" height="1.5" opacity="0.2"/><rect x="338.3" y="286.7" width="141.7" height="1.5" opacity="1.0"/><rect x="0" y="286.7" width="3.3" height="1.5" opacity="1.0"/><rect x="3.3" y="286.7" width="152.2" height="1.3" opacity="0.6"/><rect x="29.1" y="289.1" width="103.1" height="1.7" opacity="0.6"/><rect x="132.1" y="289.1" width="140" height="1.7" opacity="1.0"/><rect x="272.2" y="289.1" width="45.5" height="1.7" opacity="0.7"/><rect x="317.6" y="289.1" width="162.4" height="1.7" opacity="1.0"/><rect x="0" y="289.1" width="29.1" height="1.5" opacity="0.2"/><rect x="457.9" y="291.4" width="22.1" height="1.5" opacity="0.85"/><rect x="0" y="291.4" width="123.1" height="1.5" opacity="0.85"/><rect x="123.1" y="291.4" width="102.5" height="1.5" opacity="1.0"/><rect x="225.6" y="291.4" width="172.3" height="1.5" opacity="0.7"/><rect x="397.9" y="291.4" width="60" height="1.7" opacity="0.7"/><rect x="348.3" y="293.8" width="131.7" height="1.7" opacity="0.6"/><rect x="0" y="293.8" width="48.8" height="1.7" opacity="0.6"/><rect x="48.8" y="293.8" width="110" height="1.5" opacity="0.5"/><rect x="158.8" y="293.8" width="102.8" height="1.7" opacity="0.85"/><rect x="261.6" y="293.8" width="86.7" height="1.5" opacity="0.5"/><rect x="136" y="296.1" width="91.3" height="1.5" opacity="0.6"/><rect x="289.8" y="296.1" width="85.5" height="1.7" opacity="0.35"/><rect x="375.3" y="296.1" width="60.7" height="1.5" opacity="1.0"/><rect x="436" y="296.1" width="44" height="1.5" opacity="1.0"/><rect x="0" y="296.1" width="84.5" height="1.5" opacity="1.0"/><rect x="84.5" y="296.1" width="51.4" height="1.5" opacity="0.5"/><rect x="291.3" y="298.4" width="116.4" height="1.5" opacity="0.65"/><rect x="65.4" y="298.4" width="173.5" height="1.7" opacity="1.0"/><rect x="238.9" y="298.4" width="50.3" height="1.3" opacity="0.85"/><rect x="289.2" y="298.4" width="2.1" height="1.7" opacity="0.75"/><rect x="154.1" y="300.8" width="68.1" height="1.3" opacity="0.5"/><rect x="222.2" y="300.8" width="66.6" height="1.5" opacity="0.6"/><rect x="288.8" y="300.8" width="136.1" height="1.5" opacity="0.7"/><rect x="424.9" y="300.8" width="55.1" height="1.3" opacity="0.35"/><rect x="0" y="300.8" width="116.4" height="1.3" opacity="0.35"/><rect x="116.4" y="300.8" width="37.7" height="1.5" opacity="1.0"/><rect x="415.9" y="303.2" width="64.1" height="1.3" opacity="0.3"/><rect x="0" y="303.2" width="81.6" height="1.3" opacity="0.3"/><rect x="267.2" y="303.2" width="51.5" height="1.7" opacity="0.6"/><rect x="318.7" y="303.2" width="97.2" height="1.5" opacity="0.6"/><rect x="444.2" y="305.5" width="35.8" height="1.7" opacity="1.0"/><rect x="0" y="305.5" width="73.8" height="1.7" opacity="1.0"/><rect x="73.8" y="305.5" width="178.3" height="1.5" opacity="0.45"/><rect x="252.1" y="305.5" width="182.7" height="1.3" opacity="0.8"/><rect x="434.7" y="305.5" width="9.5" height="1.3" opacity="0.95"/><rect x="13.2" y="307.9" width="132.5" height="1.5" opacity="1.0"/><rect x="145.8" y="307.9" width="200.8" height="1.7" opacity="0.2"/><rect x="346.5" y="307.9" width="133.5" height="1.7" opacity="0.2"/><rect x="0" y="307.9" width="13.2" height="1.7" opacity="0.2"/><rect x="460.5" y="310.2" width="19.5" height="1.7" opacity="0.6"/><rect x="0" y="310.2" width="71.2" height="1.7" opacity="0.6"/><rect x="71.2" y="310.2" width="50.7" height="1.3" opacity="0.95"/><rect x="121.9" y="310.2" width="113.5" height="1.5" opacity="0.45"/><rect x="235.4" y="310.2" width="204" height="1.3" opacity="0.6"/><rect x="439.4" y="310.2" width="21" height="1.5" opacity="0.7"/><rect x="210" y="312.6" width="80.1" height="1.3" opacity="1.0"/><rect x="290.1" y="312.6" width="52.7" height="1.3" opacity="0.7"/><rect x="342.8" y="312.6" width="137.2" height="1.7" opacity="0.6"/><rect x="0" y="312.6" width="28.5" height="1.7" opacity="0.6"/><rect x="283.9" y="314.9" width="117.4" height="1.5" opacity="0.7"/><rect x="401.3" y="314.9" width="78.7" height="1.5" opacity="0.7"/><rect x="0" y="314.9" width="24.5" height="1.5" opacity="0.7"/><rect x="24.5" y="314.9" width="101.4" height="1.3" opacity="1.0"/><rect x="224.6" y="317.2" width="174.8" height="1.3" opacity="0.35"/><rect x="399.4" y="317.2" width="48.6" height="1.7" opacity="0.7"/><rect x="448" y="317.2" width="32" height="1.3" opacity="1.0"/><rect x="0" y="317.2" width="27.5" height="1.3" opacity="1.0"/><rect x="27.5" y="317.2" width="197" height="1.3" opacity="0.85"/><rect x="301.6" y="319.6" width="178.4" height="1.3" opacity="0.85"/><rect x="0" y="319.6" width="26.8" height="1.3" opacity="0.85"/><rect x="26.8" y="319.6" width="118.6" height="1.3" opacity="0.85"/><rect x="238.4" y="319.6" width="63.2" height="1.7" opacity="1.0"/><rect x="426.9" y="321.9" width="53.1" height="1.5" opacity="0.75"/><rect x="0" y="321.9" width="134.2" height="1.5" opacity="0.75"/><rect x="134.2" y="321.9" width="107.1" height="1.3" opacity="0.5"/><rect x="241.3" y="321.9" width="82.4" height="1.5" opacity="0.75"/><rect x="323.8" y="321.9" width="103.1" height="1.5" opacity="0.75"/><rect x="52.4" y="324.3" width="193.1" height="1.3" opacity="0.35"/><rect x="451.7" y="324.3" width="28.3" height="1.7" opacity="0.65"/><rect x="0" y="324.3" width="52.4" height="1.7" opacity="0.65"/><rect x="229.2" y="326.7" width="55.9" height="1.5" opacity="0.6"/><rect x="285" y="326.7" width="110.6" height="1.3" opacity="0.7"/><rect x="395.6" y="326.7" width="84.4" height="1.5" opacity="0.3"/><rect x="0" y="326.7" width="112.5" height="1.5" opacity="0.3"/><rect x="112.5" y="326.7" width="85.7" height="1.3" opacity="0.45"/><rect x="198.2" y="326.7" width="31" height="1.3" opacity="0.7"/></g><g fill="#F9F3E0"><rect x="387.4" y="265.2" width="61.1" height="2.4" opacity="0.75"/><rect x="379" y="-0.3" width="40.5" height="4.7" opacity="0.9"/><rect x="19.5" y="260.6" width="30.6" height="4.7" opacity="0.75"/><rect x="66.3" y="107.8" width="27.6" height="7" opacity="0.6"/><rect x="94.4" y="103.1" width="41" height="2.4" opacity="0.6"/><rect x="365.4" y="295.8" width="54.5" height="7" opacity="0.6"/><rect x="279.8" y="114.9" width="27.1" height="7" opacity="0.6"/><rect x="403.7" y="244.1" width="18.4" height="7" opacity="0.6"/><rect x="135.2" y="199.4" width="40.8" height="4.7" opacity="0.9"/><rect x="7.4" y="53.8" width="56" height="4.7" opacity="0.75"/><rect x="89.3" y="147.8" width="23.9" height="4.7" opacity="0.75"/><rect x="171" y="2.1" width="19.6" height="4.7" opacity="0.75"/><rect x="171.2" y="70.2" width="60.6" height="2.4" opacity="0.6"/><rect x="276.6" y="227.7" width="53.9" height="4.7" opacity="0.6"/><rect x="214.3" y="295.8" width="30.8" height="2.4" opacity="0.6"/><rect x="9.9" y="79.6" width="41.3" height="7" opacity="0.6"/><rect x="49.3" y="98.4" width="27.8" height="2.4" opacity="0.75"/><rect x="46.3" y="9.1" width="42.4" height="2.4" opacity="0.9"/><rect x="401.9" y="9.1" width="50.5" height="4.7" opacity="0.9"/><rect x="337.3" y="143" width="43.4" height="7" opacity="0.6"/><rect x="21.7" y="105.5" width="33.4" height="2.4" opacity="0.6"/><rect x="365.5" y="300.5" width="38.5" height="7" opacity="0.6"/><rect x="260" y="82" width="23.4" height="4.7" opacity="0.6"/><rect x="358.4" y="277" width="55.9" height="2.4" opacity="0.6"/><rect x="333.1" y="232.3" width="59.7" height="2.4" opacity="0.9"/><rect x="189.9" y="20.9" width="54.9" height="7" opacity="0.6"/><rect x="115.4" y="239.4" width="52.2" height="4.7" opacity="0.75"/><rect x="391.2" y="192.4" width="49.5" height="7" opacity="0.9"/><rect x="459.8" y="86.7" width="20.2" height="7" opacity="0.75"/><rect x="174.9" y="4.4" width="29" height="4.7" opacity="0.9"/><rect x="96.4" y="258.2" width="26.2" height="4.7" opacity="0.9"/><rect x="465.5" y="251.2" width="14.5" height="2.4" opacity="0.75"/><rect x="0" y="251.2" width="4.4" height="2.4" opacity="0.75"/><rect x="415.5" y="18.5" width="45.9" height="2.4" opacity="0.9"/><rect x="301.6" y="161.8" width="29.7" height="7" opacity="0.6"/><rect x="249.7" y="72.6" width="45.3" height="4.7" opacity="0.75"/><rect x="54.3" y="171.2" width="28.4" height="2.4" opacity="0.75"/><rect x="285.3" y="35" width="46.5" height="2.4" opacity="0.9"/><rect x="283.3" y="279.4" width="57.7" height="2.4" opacity="0.6"/><rect x="424.9" y="77.2" width="37.4" height="7" opacity="0.75"/><rect x="353.2" y="145.4" width="43.4" height="4.7" opacity="0.9"/><rect x="312.2" y="131.3" width="42" height="4.7" opacity="0.6"/><rect x="428.1" y="274.6" width="42.1" height="4.7" opacity="0.75"/><rect x="14.9" y="185.3" width="45" height="4.7" opacity="0.75"/><rect x="465.4" y="230" width="14.6" height="7" opacity="0.75"/><rect x="0" y="230" width="13.2" height="7" opacity="0.75"/><rect x="413.7" y="96.1" width="18.5" height="4.7" opacity="0.6"/><rect x="129.6" y="293.4" width="32.3" height="4.7" opacity="0.6"/><rect x="264.5" y="93.7" width="31" height="2.4" opacity="0.9"/><rect x="248.2" y="35" width="56.3" height="4.7" opacity="0.75"/><rect x="108.1" y="312.2" width="33.6" height="2.4" opacity="0.9"/><rect x="161.8" y="248.8" width="50.5" height="2.4" opacity="0.75"/><rect x="394.2" y="164.2" width="24.2" height="2.4" opacity="0.9"/><rect x="376.8" y="159.5" width="22.2" height="4.7" opacity="0.9"/><rect x="418" y="246.4" width="45.8" height="2.4" opacity="0.6"/><rect x="239" y="70.2" width="36.1" height="7" opacity="0.9"/><rect x="182.2" y="65.5" width="24.6" height="4.7" opacity="0.75"/><rect x="140.6" y="211.2" width="48.5" height="4.7" opacity="0.75"/><rect x="311.1" y="230" width="41.1" height="7" opacity="0.6"/><rect x="213.1" y="227.7" width="52.6" height="4.7" opacity="0.6"/><rect x="276.2" y="260.6" width="41.6" height="2.4" opacity="0.9"/><rect x="465.1" y="192.4" width="14.9" height="4.7" opacity="0.9"/><rect x="0" y="192.4" width="13.3" height="4.7" opacity="0.9"/><rect x="466.6" y="121.9" width="13.4" height="4.7" opacity="0.6"/><rect x="0" y="121.9" width="41.5" height="4.7" opacity="0.6"/><rect x="143.9" y="298.1" width="19.1" height="4.7" opacity="0.9"/><rect x="248.4" y="260.6" width="52" height="7" opacity="0.9"/><rect x="222.8" y="232.3" width="50" height="4.7" opacity="0.6"/><rect x="455" y="269.9" width="25" height="4.7" opacity="0.9"/><rect x="0" y="269.9" width="19.2" height="4.7" opacity="0.9"/><rect x="196.6" y="58.5" width="21" height="2.4" opacity="0.9"/><rect x="422.3" y="91.4" width="35.6" height="7" opacity="0.75"/><rect x="332" y="204.2" width="39.4" height="4.7" opacity="0.9"/><rect x="152.7" y="215.9" width="53.9" height="2.4" opacity="0.6"/><rect x="53" y="103.1" width="54.3" height="7" opacity="0.75"/><rect x="302.9" y="251.2" width="48.4" height="7" opacity="0.9"/><rect x="242.3" y="124.3" width="30.8" height="7" opacity="0.6"/><rect x="169.5" y="63.2" width="36.1" height="2.4" opacity="0.9"/><rect x="5.2" y="246.4" width="46" height="2.4" opacity="0.6"/><rect x="440.2" y="2.1" width="31.5" height="7" opacity="0.75"/><rect x="320.7" y="6.8" width="55.1" height="7" opacity="0.6"/><rect x="418.1" y="159.5" width="25.7" height="7" opacity="0.9"/><rect x="197.3" y="117.2" width="40.6" height="2.4" opacity="0.6"/><rect x="51.2" y="305.2" width="24.4" height="7" opacity="0.6"/><rect x="395.1" y="293.4" width="21.3" height="7" opacity="0.9"/><rect x="328.6" y="6.8" width="36.9" height="2.4" opacity="0.9"/><rect x="132.2" y="211.2" width="32.2" height="2.4" opacity="0.6"/><rect x="167.5" y="37.3" width="29.7" height="2.4" opacity="0.75"/><rect x="105.6" y="30.2" width="45.5" height="2.4" opacity="0.75"/><rect x="26.2" y="262.9" width="43.6" height="2.4" opacity="0.6"/><rect x="446.8" y="93.7" width="29" height="2.4" opacity="0.6"/><rect x="200.8" y="180.7" width="31.9" height="4.7" opacity="0.75"/><rect x="116.6" y="39.7" width="60.2" height="4.7" opacity="0.75"/><rect x="198.5" y="131.3" width="47.7" height="7" opacity="0.75"/><rect x="380.5" y="11.4" width="56.5" height="4.7" opacity="0.6"/><rect x="181.9" y="213.5" width="21.8" height="2.4" opacity="0.6"/><rect x="269.5" y="237.1" width="60.7" height="4.7" opacity="0.6"/><rect x="193.5" y="199.4" width="32.7" height="4.7" opacity="0.6"/><rect x="265.8" y="208.8" width="60.3" height="4.7" opacity="0.75"/><rect x="113.8" y="206.5" width="26.4" height="4.7" opacity="0.6"/><rect x="386.3" y="204.2" width="30.3" height="2.4" opacity="0.6"/><rect x="129.4" y="117.2" width="49.1" height="2.4" opacity="0.6"/><rect x="76.4" y="143" width="42.4" height="4.7" opacity="0.75"/><rect x="302.1" y="225.3" width="27.5" height="4.7" opacity="0.9"/><rect x="98.1" y="302.9" width="27.2" height="4.7" opacity="0.75"/><rect x="282" y="262.9" width="47.7" height="4.7" opacity="0.75"/><rect x="102" y="305.2" width="41.5" height="4.7" opacity="0.6"/><rect x="353.3" y="161.8" width="47.8" height="2.4" opacity="0.75"/><rect x="149.2" y="86.7" width="19.3" height="7" opacity="0.75"/><rect x="154.1" y="138.3" width="49.3" height="2.4" opacity="0.9"/><rect x="386.5" y="215.9" width="57.2" height="2.4" opacity="0.75"/><rect x="108.7" y="51.4" width="26.5" height="4.7" opacity="0.6"/><rect x="170.8" y="168.9" width="53.9" height="4.7" opacity="0.75"/><rect x="84.7" y="164.2" width="52.1" height="2.4" opacity="0.75"/><rect x="12.1" y="246.4" width="47.9" height="4.7" opacity="0.9"/><rect x="169" y="239.4" width="48.8" height="2.4" opacity="0.9"/><rect x="130" y="67.9" width="22.3" height="4.7" opacity="0.9"/><rect x="19.2" y="241.8" width="50.3" height="2.4" opacity="0.6"/><rect x="182.8" y="91.4" width="37" height="4.7" opacity="0.6"/><rect x="273.7" y="136" width="42.3" height="2.4" opacity="0.9"/><rect x="449.1" y="208.8" width="30.9" height="4.7" opacity="0.6"/><rect x="0" y="208.8" width="10" height="4.7" opacity="0.6"/><rect x="420.1" y="23.2" width="54.7" height="4.7" opacity="0.9"/><rect x="326.9" y="145.4" width="44.7" height="2.4" opacity="0.6"/><rect x="359.8" y="206.5" width="52.8" height="2.4" opacity="0.6"/><rect x="135" y="131.3" width="36.4" height="4.7" opacity="0.6"/><rect x="446.5" y="265.2" width="33.4" height="4.7" opacity="0.9"/><rect x="26.1" y="305.2" width="40.1" height="4.7" opacity="0.9"/><rect x="235" y="74.9" width="27.1" height="7" opacity="0.6"/><rect x="83.8" y="154.8" width="19.9" height="7" opacity="0.6"/><rect x="119.9" y="154.8" width="60.7" height="2.4" opacity="0.6"/><rect x="44.4" y="246.4" width="25.4" height="4.7" opacity="0.9"/><rect x="321.8" y="291.1" width="31.7" height="2.4" opacity="0.6"/><rect x="331.9" y="307.6" width="49" height="2.4" opacity="0.6"/><rect x="64" y="178.3" width="59.2" height="4.7" opacity="0.9"/><rect x="160.1" y="143" width="24.2" height="7" opacity="0.6"/><rect x="287.4" y="91.4" width="42.1" height="2.4" opacity="0.75"/><rect x="54.9" y="121.9" width="54.9" height="4.7" opacity="0.75"/><rect x="20.8" y="121.9" width="18.5" height="4.7" opacity="0.75"/><rect x="215" y="185.3" width="31.4" height="2.4" opacity="0.6"/><rect x="273.2" y="279.4" width="25.1" height="4.7" opacity="0.75"/><rect x="5.2" y="25.6" width="25.4" height="2.4" opacity="0.75"/><rect x="52.2" y="157.2" width="21.7" height="4.7" opacity="0.75"/><rect x="376.3" y="112.5" width="60.1" height="4.7" opacity="0.75"/><rect x="301.3" y="171.2" width="18.4" height="2.4" opacity="0.9"/><rect x="37.5" y="145.4" width="46.7" height="4.7" opacity="0.9"/><rect x="142.2" y="86.7" width="19.2" height="4.7" opacity="0.6"/><rect x="49" y="100.8" width="60.3" height="7" opacity="0.9"/><rect x="182.1" y="194.8" width="54.5" height="7" opacity="0.9"/><rect x="176.9" y="136" width="54.3" height="4.7" opacity="0.9"/><rect x="27.7" y="143" width="58.5" height="4.7" opacity="0.6"/><rect x="453.6" y="27.9" width="26.4" height="4.7" opacity="0.75"/><rect x="0" y="27.9" width="16.5" height="4.7" opacity="0.75"/><rect x="289.3" y="178.3" width="36.6" height="2.4" opacity="0.9"/><rect x="66.4" y="96.1" width="21.5" height="2.4" opacity="0.9"/><rect x="408.3" y="23.2" width="60.7" height="2.4" opacity="0.75"/><rect x="15.4" y="-0.3" width="26.4" height="4.7" opacity="0.9"/><rect x="68.7" y="253.5" width="55.6" height="7" opacity="0.6"/><rect x="427.5" y="251.2" width="47.1" height="7" opacity="0.6"/><rect x="181.8" y="98.4" width="37.3" height="2.4" opacity="0.6"/><rect x="272.4" y="208.8" width="37.5" height="7" opacity="0.75"/><rect x="221" y="309.9" width="21.7" height="4.7" opacity="0.9"/><rect x="461.7" y="239.4" width="18.3" height="2.4" opacity="0.9"/><rect x="0" y="239.4" width="39.7" height="2.4" opacity="0.9"/><rect x="292.4" y="197.1" width="21.6" height="2.4" opacity="0.75"/><rect x="230.8" y="220.6" width="42.9" height="4.7" opacity="0.9"/><rect x="424.8" y="316.9" width="24" height="4.7" opacity="0.6"/><rect x="331.9" y="267.6" width="55.3" height="2.4" opacity="0.6"/><rect x="172.8" y="248.8" width="47.1" height="4.7" opacity="0.6"/><rect x="54.8" y="154.8" width="42.9" height="4.7" opacity="0.6"/><rect x="106.2" y="65.5" width="60.6" height="2.4" opacity="0.75"/><rect x="321.7" y="316.9" width="46.6" height="2.4" opacity="0.9"/><rect x="108.7" y="274.6" width="39.5" height="7" opacity="0.9"/><rect x="408.7" y="46.7" width="48.7" height="7" opacity="0.9"/><rect x="414.5" y="79.6" width="21.2" height="4.7" opacity="0.9"/><rect x="49" y="307.6" width="40.3" height="2.4" opacity="0.9"/><rect x="270.3" y="114.9" width="35.2" height="2.4" opacity="0.6"/><rect x="194.1" y="32.6" width="24" height="7" opacity="0.6"/><rect x="220.7" y="126.6" width="34.4" height="2.4" opacity="0.6"/><rect x="298.2" y="51.4" width="49.1" height="4.7" opacity="0.6"/><rect x="176.2" y="100.8" width="42.8" height="4.7" opacity="0.75"/><rect x="58.9" y="152.4" width="53.4" height="2.4" opacity="0.75"/><rect x="346.5" y="213.5" width="40.6" height="7" opacity="0.6"/><rect x="170.8" y="58.5" width="53.9" height="4.7" opacity="0.75"/><rect x="444.2" y="18.5" width="35.8" height="2.4" opacity="0.9"/><rect x="0" y="18.5" width="17.5" height="2.4" opacity="0.9"/><rect x="333.1" y="114.9" width="28.7" height="4.7" opacity="0.6"/><rect x="54.5" y="262.9" width="54.9" height="7" opacity="0.6"/><rect x="88.9" y="154.8" width="39.5" height="2.4" opacity="0.9"/><rect x="282.4" y="84.3" width="59" height="4.7" opacity="0.75"/><rect x="6.6" y="265.2" width="41.7" height="4.7" opacity="0.75"/><rect x="232.3" y="300.5" width="61.8" height="4.7" opacity="0.6"/><rect x="87.5" y="44.4" width="53.2" height="2.4" opacity="0.9"/><rect x="464.4" y="284.1" width="15.6" height="4.7" opacity="0.9"/><rect x="0" y="284.1" width="32.3" height="4.7" opacity="0.9"/><rect x="419" y="136" width="55.2" height="4.7" opacity="0.9"/><rect x="253.6" y="197.1" width="40.7" height="4.7" opacity="0.75"/><rect x="101.5" y="25.6" width="57.3" height="7" opacity="0.75"/><rect x="186.2" y="279.4" width="50" height="4.7" opacity="0.75"/><rect x="160.2" y="288.8" width="31.8" height="4.7" opacity="0.6"/><rect x="302.8" y="25.6" width="28.9" height="7" opacity="0.9"/><rect x="131.2" y="230" width="47.5" height="4.7" opacity="0.9"/><rect x="280.5" y="316.9" width="61.6" height="4.7" opacity="0.6"/><rect x="418.7" y="56.1" width="61.3" height="2.4" opacity="0.75"/><rect x="380.1" y="215.9" width="45.9" height="2.4" opacity="0.6"/><rect x="145.9" y="42" width="56.4" height="2.4" opacity="0.75"/><rect x="168.2" y="145.4" width="50.5" height="7" opacity="0.9"/><rect x="338" y="35" width="49.5" height="4.7" opacity="0.9"/><rect x="176.3" y="300.5" width="32.2" height="4.7" opacity="0.6"/><rect x="65.1" y="89" width="53.6" height="4.7" opacity="0.6"/><rect x="213.8" y="241.8" width="57.1" height="4.7" opacity="0.9"/><rect x="69" y="37.3" width="52" height="2.4" opacity="0.9"/><rect x="35.3" y="204.2" width="31.6" height="7" opacity="0.6"/><rect x="146" y="105.5" width="43.7" height="2.4" opacity="0.75"/><rect x="346.2" y="255.9" width="61.4" height="4.7" opacity="0.6"/><rect x="132.4" y="103.1" width="54.9" height="4.7" opacity="0.75"/><rect x="113.7" y="159.5" width="42" height="2.4" opacity="0.6"/><rect x="96.2" y="267.6" width="27.6" height="4.7" opacity="0.9"/><rect x="94.4" y="58.5" width="30.4" height="7" opacity="0.9"/><rect x="38.1" y="27.9" width="20.5" height="2.4" opacity="0.9"/><rect x="90.3" y="2.1" width="33" height="2.4" opacity="0.9"/><rect x="443" y="192.4" width="37" height="2.4" opacity="0.6"/><rect x="0" y="192.4" width="9.3" height="2.4" opacity="0.6"/><rect x="194.6" y="291.1" width="32.1" height="2.4" opacity="0.9"/><rect x="414.4" y="32.6" width="53.2" height="2.4" opacity="0.6"/><rect x="372.5" y="199.4" width="21.8" height="7" opacity="0.9"/><rect x="12.4" y="6.8" width="35.6" height="4.7" opacity="0.75"/><rect x="199.3" y="32.6" width="42.8" height="4.7" opacity="0.9"/><rect x="44.9" y="93.7" width="49.9" height="4.7" opacity="0.6"/><rect x="171.8" y="53.8" width="27.3" height="7" opacity="0.75"/><rect x="315.5" y="91.4" width="36.6" height="7" opacity="0.9"/><rect x="390.5" y="154.8" width="43.3" height="2.4" opacity="0.75"/><rect x="268.5" y="272.3" width="51.6" height="4.7" opacity="0.75"/><rect x="121.4" y="77.2" width="41" height="4.7" opacity="0.9"/><rect x="475" y="89" width="5" height="4.7" opacity="0.6"/><rect x="0" y="89" width="33.9" height="4.7" opacity="0.6"/><rect x="299.8" y="16.1" width="35.6" height="2.4" opacity="0.6"/><rect x="266.5" y="121.9" width="20.6" height="7" opacity="0.6"/><rect x="354" y="218.2" width="29.4" height="7" opacity="0.6"/><rect x="13.9" y="316.9" width="56.3" height="2.4" opacity="0.9"/><rect x="305.3" y="126.6" width="28.7" height="4.7" opacity="0.75"/><rect x="101.8" y="274.6" width="57.6" height="4.7" opacity="0.6"/><rect x="387.2" y="37.3" width="22.7" height="2.4" opacity="0.75"/><rect x="109.5" y="35" width="47.7" height="4.7" opacity="0.75"/><rect x="14.7" y="133.7" width="36" height="4.7" opacity="0.6"/><rect x="111.1" y="143" width="29.5" height="4.7" opacity="0.6"/><rect x="143.3" y="166.5" width="32.3" height="4.7" opacity="0.75"/><rect x="229.1" y="93.7" width="27.5" height="7" opacity="0.75"/><rect x="135.6" y="178.3" width="60" height="2.4" opacity="0.75"/><rect x="153.5" y="96.1" width="18.2" height="2.4" opacity="0.9"/><rect x="278" y="126.6" width="44.3" height="4.7" opacity="0.6"/><rect x="374.3" y="25.6" width="55.5" height="4.7" opacity="0.75"/><rect x="328.9" y="178.3" width="26" height="2.4" opacity="0.6"/><rect x="437.6" y="79.6" width="24.7" height="2.4" opacity="0.6"/><rect x="360.6" y="56.1" width="40.1" height="4.7" opacity="0.75"/><rect x="163" y="248.8" width="48" height="2.4" opacity="0.9"/><rect x="280.9" y="18.5" width="49.5" height="4.7" opacity="0.6"/><rect x="64.7" y="20.9" width="52.9" height="2.4" opacity="0.9"/><rect x="349.7" y="60.8" width="28.2" height="4.7" opacity="0.6"/><rect x="421.7" y="37.3" width="58.3" height="4.7" opacity="0.6"/><rect x="0" y="37.3" width="3.3" height="4.7" opacity="0.6"/><rect x="205.7" y="314.6" width="60.1" height="2.4" opacity="0.6"/><rect x="303.9" y="86.7" width="27.9" height="7" opacity="0.9"/><rect x="169.7" y="316.9" width="40" height="2.4" opacity="0.75"/><rect x="465.8" y="208.8" width="14.2" height="2.4" opacity="0.6"/><rect x="0" y="208.8" width="46" height="2.4" opacity="0.6"/><rect x="7.3" y="105.5" width="50.2" height="4.7" opacity="0.75"/><rect x="244.2" y="117.2" width="21" height="2.4" opacity="0.75"/><rect x="5.1" y="159.5" width="52.7" height="4.7" opacity="0.9"/><rect x="263.4" y="168.9" width="19.8" height="4.7" opacity="0.9"/><rect x="202.5" y="239.4" width="36.1" height="4.7" opacity="0.9"/><rect x="365.3" y="232.3" width="36.4" height="2.4" opacity="0.75"/><rect x="291.8" y="143" width="53.4" height="2.4" opacity="0.75"/><rect x="396.3" y="143" width="48.5" height="4.7" opacity="0.9"/><rect x="436.1" y="18.5" width="23.1" height="7" opacity="0.6"/><rect x="328.7" y="194.8" width="35.9" height="7" opacity="0.75"/><rect x="466.4" y="272.3" width="13.6" height="4.7" opacity="0.6"/><rect x="0" y="272.3" width="28.5" height="4.7" opacity="0.6"/><rect x="164.3" y="305.2" width="38.8" height="4.7" opacity="0.9"/><rect x="170.5" y="225.3" width="61.8" height="2.4" opacity="0.6"/><rect x="294.2" y="159.5" width="35.3" height="7" opacity="0.9"/><rect x="443.5" y="133.7" width="36.5" height="2.4" opacity="0.75"/><rect x="0" y="133.7" width="17.8" height="2.4" opacity="0.75"/><rect x="250.6" y="208.8" width="29.5" height="4.7" opacity="0.75"/><rect x="445.1" y="37.3" width="34.9" height="2.4" opacity="0.9"/><rect x="0" y="37.3" width="8.2" height="2.4" opacity="0.9"/><rect x="81.2" y="316.9" width="34" height="2.4" opacity="0.75"/><rect x="394.5" y="91.4" width="28.5" height="2.4" opacity="0.75"/><rect x="183" y="192.4" width="25.8" height="2.4" opacity="0.75"/><rect x="180.1" y="150.1" width="23.4" height="2.4" opacity="0.75"/><rect x="145.2" y="312.2" width="33.7" height="7" opacity="0.9"/><rect x="478.5" y="173.6" width="1.5" height="4.7" opacity="0.9"/><rect x="0" y="173.6" width="20.4" height="4.7" opacity="0.9"/><rect x="364.2" y="103.1" width="22.9" height="4.7" opacity="0.6"/><rect x="234.6" y="218.2" width="18.3" height="2.4" opacity="0.9"/><rect x="163.2" y="312.2" width="28.5" height="4.7" opacity="0.75"/><rect x="0.4" y="119.6" width="29.1" height="7" opacity="0.75"/><rect x="344.7" y="183" width="20.5" height="2.4" opacity="0.75"/><rect x="127.4" y="143" width="58.3" height="4.7" opacity="0.75"/><rect x="96.8" y="51.4" width="22" height="4.7" opacity="0.75"/><rect x="441.8" y="222.9" width="38.2" height="4.7" opacity="0.9"/><rect x="0" y="222.9" width="22" height="4.7" opacity="0.9"/><rect x="342" y="23.2" width="37.5" height="4.7" opacity="0.75"/><rect x="169.1" y="152.4" width="60.7" height="4.7" opacity="0.75"/><rect x="469.3" y="114.9" width="10.7" height="2.4" opacity="0.9"/><rect x="0" y="114.9" width="44.7" height="2.4" opacity="0.9"/><rect x="158.1" y="121.9" width="43.5" height="2.4" opacity="0.6"/><rect x="188.8" y="227.7" width="21.5" height="4.7" opacity="0.75"/><rect x="284.5" y="63.2" width="39.9" height="2.4" opacity="0.75"/><rect x="477.6" y="248.8" width="2.4" height="4.7" opacity="0.6"/><rect x="0" y="248.8" width="56.7" height="4.7" opacity="0.6"/><rect x="235.8" y="237.1" width="57.2" height="4.7" opacity="0.9"/><rect x="355.4" y="138.3" width="51.1" height="2.4" opacity="0.75"/><rect x="369.2" y="197.1" width="41.8" height="4.7" opacity="0.75"/><rect x="274.1" y="44.4" width="23.2" height="2.4" opacity="0.6"/><rect x="270.9" y="128.9" width="22.5" height="2.4" opacity="0.6"/><rect x="231.7" y="199.4" width="54.3" height="2.4" opacity="0.6"/><rect x="479.1" y="82" width="0.9" height="4.7" opacity="0.6"/><rect x="0" y="82" width="41.3" height="4.7" opacity="0.6"/><rect x="160.5" y="192.4" width="56.4" height="2.4" opacity="0.9"/><rect x="249.6" y="164.2" width="61.2" height="2.4" opacity="0.6"/><rect x="266.7" y="178.3" width="31.8" height="4.7" opacity="0.9"/></g></pattern>
<filter id="b0" x="-10%" y="-10%" width="120%" height="120%"><feGaussianBlur stdDeviation="0.5"/></filter>
<filter id="b1" x="-10%" y="-10%" width="120%" height="120%"><feGaussianBlur stdDeviation="0.9"/></filter>
<filter id="b2" x="-10%" y="-10%" width="120%" height="120%"><feGaussianBlur stdDeviation="1.6"/></filter>
<filter id="bev" x="-20%" y="-20%" width="140%" height="140%" color-interpolation-filters="sRGB"><feGaussianBlur in="SourceAlpha" stdDeviation="1.6" result="b"/><feSpecularLighting in="b" surfaceScale="3.5" specularConstant="1" specularExponent="22" lighting-color="#ffffff" result="s"><feDistantLight azimuth="262" elevation="48"/></feSpecularLighting><feComposite in="s" in2="SourceAlpha" operator="in" result="s2"/><feMerge><feMergeNode in="SourceGraphic"/><feMergeNode in="s2"/></feMerge></filter>
<filter id="b3" x="-20%" y="-20%" width="140%" height="140%"><feGaussianBlur stdDeviation="3"/></filter>
<linearGradient id="cg0" x1="0" y1="0" x2="0" y2="1"><stop offset="0" stop-color="#7CA8DE"/><stop offset="1" stop-color="#5A8ECB"/></linearGradient>
<clipPath id="cc0"><circle cx="730" cy="96.7" r="82"/></clipPath>
<linearGradient id="cg1" x1="0" y1="0" x2="0" y2="1"><stop offset="0" stop-color="#84BFDA"/><stop offset="1" stop-color="#62AACB"/></linearGradient>
<clipPath id="cc1"><circle cx="956.5" cy="190.5" r="82"/></clipPath>
<linearGradient id="cg2" x1="0" y1="0" x2="0" y2="1"><stop offset="0" stop-color="#80D3CF"/><stop offset="1" stop-color="#69C3BD"/></linearGradient>
<clipPath id="cc2"><circle cx="1050.3" cy="417" r="82"/></clipPath>
<linearGradient id="cg3" x1="0" y1="0" x2="0" y2="1"><stop offset="0" stop-color="#7DCFB1"/><stop offset="1" stop-color="#62BD9B"/></linearGradient>
<clipPath id="cc3"><circle cx="956.5" cy="643.5" r="82"/></clipPath>
<linearGradient id="cg4" x1="0" y1="0" x2="0" y2="1"><stop offset="0" stop-color="#7CCB91"/><stop offset="1" stop-color="#61BA78"/></linearGradient>
<clipPath id="cc4"><circle cx="730" cy="737.3" r="82"/></clipPath>
<linearGradient id="cg5" x1="0" y1="0" x2="0" y2="1"><stop offset="0" stop-color="#79C874"/><stop offset="1" stop-color="#5FB75B"/></linearGradient>
<clipPath id="cc5"><circle cx="503.5" cy="643.5" r="82"/></clipPath>
<linearGradient id="cg6" x1="0" y1="0" x2="0" y2="1"><stop offset="0" stop-color="#7EC86C"/><stop offset="1" stop-color="#63B451"/></linearGradient>
<clipPath id="cc6"><circle cx="409.7" cy="417" r="82"/></clipPath>
<linearGradient id="cg7" x1="0" y1="0" x2="0" y2="1"><stop offset="0" stop-color="#8DBE64"/><stop offset="1" stop-color="#70A748"/></linearGradient>
<clipPath id="cc7"><circle cx="503.5" cy="190.5" r="82"/></clipPath>
<linearGradient id="ag0" x1="0" y1="0" x2="0" y2="1"><stop offset="0" stop-color="#77A4DC"/><stop offset="1" stop-color="#5E90CF"/></linearGradient>
<clipPath id="ac1"><path d="M828.2,119.5 L848.7,128 L852.9,118.1 L862.3,151.3 L832.1,168.1 L836.2,158.2 L815.7,149.7 Z"/></clipPath>
<linearGradient id="ag1" x1="0" y1="0" x2="0" y2="1"><stop offset="0" stop-color="#82BFDD"/><stop offset="1" stop-color="#69AED2"/></linearGradient>
<clipPath id="ac2"><path d="M1009.8,276.1 L1018.3,296.6 L1028.3,292.5 L1011.4,322.6 L978.2,313.2 L988.2,309.1 L979.7,288.6 Z"/></clipPath>
<linearGradient id="ag2" x1="0" y1="0" x2="0" y2="1"><stop offset="0" stop-color="#7ED2CE"/><stop offset="1" stop-color="#68C4BF"/></linearGradient>
<clipPath id="ac3"><path d="M1027.5,515.2 L1019,535.7 L1028.9,539.9 L995.7,549.3 L978.9,519.1 L988.8,523.2 L997.3,502.7 Z"/></clipPath>
<linearGradient id="ag3" x1="0" y1="0" x2="0" y2="1"><stop offset="0" stop-color="#7BCEAF"/><stop offset="1" stop-color="#64BF9C"/></linearGradient>
<clipPath id="ac4"><path d="M870.9,696.8 L850.4,705.3 L854.5,715.3 L824.4,698.4 L833.8,665.2 L837.9,675.2 L858.4,666.7 Z"/></clipPath>
<linearGradient id="ag4" x1="0" y1="0" x2="0" y2="1"><stop offset="0" stop-color="#77C98D"/><stop offset="1" stop-color="#60BA78"/></linearGradient>
<clipPath id="ac5"><path d="M631.8,714.5 L611.3,706 L607.1,715.9 L597.7,682.7 L627.9,665.9 L623.8,675.8 L644.3,684.3 Z"/></clipPath>
<linearGradient id="ag5" x1="0" y1="0" x2="0" y2="1"><stop offset="0" stop-color="#74C570"/><stop offset="1" stop-color="#5DB65A"/></linearGradient>
<clipPath id="ac6"><path d="M450.2,557.9 L441.7,537.4 L431.7,541.5 L448.6,511.4 L481.8,520.8 L471.8,524.9 L480.3,545.4 Z"/></clipPath>
<linearGradient id="ag6" x1="0" y1="0" x2="0" y2="1"><stop offset="0" stop-color="#7AC266"/><stop offset="1" stop-color="#62B150"/></linearGradient>
<clipPath id="ac7"><path d="M432.5,318.8 L441,298.3 L431.1,294.1 L464.3,284.7 L481.1,314.9 L471.2,310.8 L462.7,331.3 Z"/></clipPath>
<linearGradient id="ag7" x1="0" y1="0" x2="0" y2="1"><stop offset="0" stop-color="#88BA5F"/><stop offset="1" stop-color="#70A648"/></linearGradient>
<clipPath id="ac8"><path d="M589.1,137.2 L609.6,128.7 L605.5,118.7 L635.6,135.6 L626.2,168.8 L622.1,158.8 L601.6,167.3 Z"/></clipPath>
<linearGradient id="bgA" x1="0" y1="0" x2="0" y2="1"><stop offset="0" stop-color="#4F78CD"/><stop offset="1" stop-color="#4167BF"/></linearGradient>
<clipPath id="ac9"><path d="M677.8,216.2 L684.5,214.3 L691.2,212.6 L698,211.1 L704.8,209.9 L711.7,208.9 L718.6,208.1 L725.5,207.6 L732.5,207.3 L739.4,207.2 L746.4,207.4 L753.3,207.7 L760.2,208.3 L767.1,209.2 L774,210.3 L779.8,190.4 L794.6,231 L758.3,260.8 L764.3,240.5 L758.8,239.8 L753.2,239.2 L747.6,238.8 L742.1,238.6 L736.5,238.6 L730.9,238.8 L725.3,239.1 L719.8,239.6 L714.2,240.3 L708.7,241.1 L703.2,242.1 L697.8,243.3 L692.3,244.7 L687,246.2 Z"/></clipPath>
<clipPath id="ac10"><path d="M938.2,355.4 L940.1,362.1 L941.8,368.8 L943.3,375.6 L944.5,382.4 L945.5,389.3 L946.3,396.2 L946.8,403.1 L947.1,410.1 L947.2,417 L947,424 L946.7,430.9 L946.1,437.8 L945.2,444.7 L944.1,451.6 L964,457.4 L923.4,472.2 L893.6,435.9 L913.9,441.9 L914.6,436.4 L915.2,430.8 L915.6,425.2 L915.8,419.7 L915.8,414.1 L915.6,408.5 L915.3,402.9 L914.8,397.4 L914.1,391.8 L913.3,386.3 L912.3,380.8 L911.1,375.4 L909.7,369.9 L908.2,364.6 Z"/></clipPath>
<clipPath id="ac11"><path d="M799,615.8 L792.3,617.7 L785.6,619.4 L778.8,620.9 L772,622.1 L765.1,623.1 L758.2,623.9 L751.3,624.4 L744.3,624.7 L737.4,624.8 L730.4,624.6 L723.5,624.3 L716.6,623.7 L709.7,622.8 L702.8,621.7 L697,641.6 L682.2,601 L718.5,571.2 L712.5,591.5 L718,592.2 L723.6,592.8 L729.2,593.2 L734.7,593.4 L740.3,593.4 L745.9,593.2 L751.5,592.9 L757,592.4 L762.6,591.7 L768.1,590.9 L773.6,589.9 L779,588.7 L784.5,587.3 L789.8,585.8 Z"/></clipPath>
<clipPath id="ac12"><path d="M538.6,476.6 L536.7,469.9 L535,463.2 L533.5,456.4 L532.3,449.6 L531.3,442.7 L530.5,435.8 L530,428.9 L529.7,421.9 L529.6,415 L529.8,408 L530.1,401.1 L530.7,394.2 L531.6,387.3 L532.7,380.4 L512.8,374.6 L553.4,359.8 L583.2,396.1 L562.9,390.1 L562.2,395.6 L561.6,401.2 L561.2,406.8 L561,412.3 L561,417.9 L561.2,423.5 L561.5,429.1 L562,434.6 L562.7,440.2 L563.5,445.7 L564.5,451.2 L565.7,456.6 L567.1,462.1 L568.6,467.4 Z"/></clipPath>
<radialGradient id="rg" cx="0.5" cy="0.5" r="0.5"><stop offset="0" stop-color="#AD2218"/><stop offset="0.9" stop-color="#AF231A"/><stop offset="1" stop-color="#BC2A20"/></radialGradient>
<radialGradient id="rgr" cx="0.5" cy="0.5" r="0.5"><stop offset="0.82" stop-color="#F0554A" stop-opacity="0"/><stop offset="0.94" stop-color="#EA4F43" stop-opacity="0.5"/><stop offset="1" stop-color="#F25A4D" stop-opacity="0.9"/></radialGradient>
<linearGradient id="rgm" x1="0.42" y1="0" x2="0.58" y2="1"><stop offset="0" stop-color="#fff"/><stop offset="0.22" stop-color="#fff" stop-opacity="0.7"/><stop offset="0.55" stop-color="#fff" stop-opacity="0.22"/><stop offset="1" stop-color="#fff" stop-opacity="0.12"/></linearGradient>
<mask id="rmask" maskUnits="userSpaceOnUse" x="615.5" y="280.2" width="256" height="256"><rect x="615.5" y="280.2" width="256" height="256" fill="url(#rgm)"/></mask></defs>
<rect width="1488" height="834" fill="#F9F3E0"/>
<rect width="1488" height="834" fill="url(#bgp)"/>
<g><circle cx="730" cy="96.7" r="82" fill="url(#cg0)"/><g clip-path="url(#cc0)" fill="#fff"><path d="M662.3,54.4 A79.8,79.8 0 0 1 781.3,35.6 A95.3,95.3 0 0 0 662.3,54.4 Z" fill="#CAE2FF" opacity="0.7" filter="url(#b2)"/><path d="M746.8,175.7 A80.8,80.8 0 0 1 650,85.5 A98.8,98.8 0 0 0 746.8,175.7 Z" fill="#CAE2FF" opacity="0.75" filter="url(#b2)"/><path d="M735.6,176.6 A80.1,80.1 0 0 1 649.9,93.9 A99,99 0 0 0 735.6,176.6 Z" opacity="0.95" filter="url(#b1)"/><path d="M777,29.5 A82,82 0 0 1 788,154.7 A88.7,88.7 0 0 0 777,29.5 Z" fill="#CAE2FF" opacity="0.65" filter="url(#b0)"/><path d="M777.4,164.4 A82.6,82.6 0 0 1 658.5,55.4 A83.4,83.4 0 0 0 777.4,164.4 Z" fill="#5586C0" filter="url(#b0)"/></g></g>
<g><circle cx="956.5" cy="190.5" r="82" fill="url(#cg1)"/><g clip-path="url(#cc1)" fill="#fff"><path d="M888.8,148.2 A79.8,79.8 0 0 1 1007.8,129.4 A95.3,95.3 0 0 0 888.8,148.2 Z" fill="#D0F0FF" opacity="0.7" filter="url(#b2)"/><path d="M973.3,269.5 A80.8,80.8 0 0 1 876.5,179.3 A98.8,98.8 0 0 0 973.3,269.5 Z" fill="#D0F0FF" opacity="0.75" filter="url(#b2)"/><path d="M962.1,270.4 A80.1,80.1 0 0 1 876.4,187.7 A99,99 0 0 0 962.1,270.4 Z" opacity="0.95" filter="url(#b1)"/><path d="M1003.5,123.3 A82,82 0 0 1 1014.5,248.5 A88.7,88.7 0 0 0 1003.5,123.3 Z" fill="#D0F0FF" opacity="0.65" filter="url(#b0)"/><path d="M1003.9,258.2 A82.6,82.6 0 0 1 885,149.2 A83.4,83.4 0 0 0 1003.9,258.2 Z" fill="#5DA1C0" filter="url(#b0)"/></g></g>
<g><circle cx="1050.3" cy="417" r="82" fill="url(#cg2)"/><g clip-path="url(#cc2)" fill="#fff"><path d="M982.6,374.7 A79.8,79.8 0 0 1 1101.6,355.9 A95.3,95.3 0 0 0 982.6,374.7 Z" fill="#D1FEFC" opacity="0.7" filter="url(#b2)"/><path d="M1067.1,496 A80.8,80.8 0 0 1 970.3,405.8 A98.8,98.8 0 0 0 1067.1,496 Z" fill="#D1FEFC" opacity="0.75" filter="url(#b2)"/><path d="M1055.9,496.9 A80.1,80.1 0 0 1 970.2,414.2 A99,99 0 0 0 1055.9,496.9 Z" opacity="0.95" filter="url(#b1)"/><path d="M1097.3,349.8 A82,82 0 0 1 1108.3,475 A88.7,88.7 0 0 0 1097.3,349.8 Z" fill="#D1FEFC" opacity="0.65" filter="url(#b0)"/><path d="M1097.7,484.7 A82.6,82.6 0 0 1 978.8,375.7 A83.4,83.4 0 0 0 1097.7,484.7 Z" fill="#63B9B3" filter="url(#b0)"/></g></g>
<g><circle cx="956.5" cy="643.5" r="82" fill="url(#cg3)"/><g clip-path="url(#cc3)" fill="#fff"><path d="M888.8,601.2 A79.8,79.8 0 0 1 1007.8,582.4 A95.3,95.3 0 0 0 888.8,601.2 Z" fill="#D1FFEE" opacity="0.7" filter="url(#b2)"/><path d="M973.3,722.5 A80.8,80.8 0 0 1 876.5,632.2 A98.8,98.8 0 0 0 973.3,722.5 Z" fill="#D1FFEE" opacity="0.75" filter="url(#b2)"/><path d="M962.1,723.4 A80.1,80.1 0 0 1 876.4,640.7 A99,99 0 0 0 962.1,723.4 Z" opacity="0.95" filter="url(#b1)"/><path d="M1003.5,576.3 A82,82 0 0 1 1014.5,701.5 A88.7,88.7 0 0 0 1003.5,576.3 Z" fill="#D1FFEE" opacity="0.65" filter="url(#b0)"/><path d="M1003.9,711.1 A82.6,82.6 0 0 1 885,602.2 A83.4,83.4 0 0 0 1003.9,711.1 Z" fill="#5DB393" filter="url(#b0)"/></g></g>
<g><circle cx="730" cy="737.3" r="82" fill="url(#cg4)"/><g clip-path="url(#cc4)" fill="#fff"><path d="M662.3,695 A79.8,79.8 0 0 1 781.3,676.2 A95.3,95.3 0 0 0 662.3,695 Z" fill="#D3FFDE" opacity="0.7" filter="url(#b2)"/><path d="M746.8,816.3 A80.8,80.8 0 0 1 650,726.1 A98.8,98.8 0 0 0 746.8,816.3 Z" fill="#D3FFDE" opacity="0.75" filter="url(#b2)"/><path d="M735.6,817.2 A80.1,80.1 0 0 1 649.9,734.5 A99,99 0 0 0 735.6,817.2 Z" opacity="0.95" filter="url(#b1)"/><path d="M777,670.1 A82,82 0 0 1 788,795.3 A88.7,88.7 0 0 0 777,670.1 Z" fill="#D3FFDE" opacity="0.65" filter="url(#b0)"/><path d="M777.4,805 A82.6,82.6 0 0 1 658.5,696 A83.4,83.4 0 0 0 777.4,805 Z" fill="#5CB072" filter="url(#b0)"/></g></g>
<g><circle cx="503.5" cy="643.5" r="82" fill="url(#cg5)"/><g clip-path="url(#cc5)" fill="#fff"><path d="M435.8,601.2 A79.8,79.8 0 0 1 554.8,582.4 A95.3,95.3 0 0 0 435.8,601.2 Z" fill="#D2FFCF" opacity="0.7" filter="url(#b2)"/><path d="M520.3,722.5 A80.8,80.8 0 0 1 423.5,632.2 A98.8,98.8 0 0 0 520.3,722.5 Z" fill="#D2FFCF" opacity="0.75" filter="url(#b2)"/><path d="M509.1,723.4 A80.1,80.1 0 0 1 423.5,640.7 A99,99 0 0 0 509.1,723.4 Z" opacity="0.95" filter="url(#b1)"/><path d="M550.5,576.3 A82,82 0 0 1 561.5,701.5 A88.7,88.7 0 0 0 550.5,576.3 Z" fill="#D2FFCF" opacity="0.65" filter="url(#b0)"/><path d="M550.9,711.1 A82.6,82.6 0 0 1 432,602.2 A83.4,83.4 0 0 0 550.9,711.1 Z" fill="#5AAD56" filter="url(#b0)"/></g></g>
<g><circle cx="409.7" cy="417" r="82" fill="url(#cg6)"/><g clip-path="url(#cc6)" fill="#fff"><path d="M342,374.7 A79.8,79.8 0 0 1 461,355.9 A95.3,95.3 0 0 0 342,374.7 Z" fill="#D5FFCB" opacity="0.7" filter="url(#b2)"/><path d="M426.5,496 A80.8,80.8 0 0 1 329.7,405.8 A98.8,98.8 0 0 0 426.5,496 Z" fill="#D5FFCB" opacity="0.75" filter="url(#b2)"/><path d="M415.3,496.9 A80.1,80.1 0 0 1 329.6,414.2 A99,99 0 0 0 415.3,496.9 Z" opacity="0.95" filter="url(#b1)"/><path d="M456.7,349.8 A82,82 0 0 1 467.7,475 A88.7,88.7 0 0 0 456.7,349.8 Z" fill="#D5FFCB" opacity="0.65" filter="url(#b0)"/><path d="M457.1,484.7 A82.6,82.6 0 0 1 338.2,375.7 A83.4,83.4 0 0 0 457.1,484.7 Z" fill="#5EAB4C" filter="url(#b0)"/></g></g>
<g><circle cx="503.5" cy="190.5" r="82" fill="url(#cg7)"/><g clip-path="url(#cc7)" fill="#fff"><path d="M435.8,148.2 A79.8,79.8 0 0 1 554.8,129.4 A95.3,95.3 0 0 0 435.8,148.2 Z" fill="#E2FECB" opacity="0.7" filter="url(#b2)"/><path d="M520.3,269.5 A80.8,80.8 0 0 1 423.5,179.3 A98.8,98.8 0 0 0 520.3,269.5 Z" fill="#E2FECB" opacity="0.75" filter="url(#b2)"/><path d="M509.1,270.4 A80.1,80.1 0 0 1 423.5,187.7 A99,99 0 0 0 509.1,270.4 Z" opacity="0.95" filter="url(#b1)"/><path d="M550.5,123.3 A82,82 0 0 1 561.5,248.5 A88.7,88.7 0 0 0 550.5,123.3 Z" fill="#E2FECB" opacity="0.65" filter="url(#b0)"/><path d="M550.9,258.2 A82.6,82.6 0 0 1 432,149.2 A83.4,83.4 0 0 0 550.9,258.2 Z" fill="#6A9E44" filter="url(#b0)"/></g></g>
<g><path d="M828.2,119.5 L848.7,128 L852.9,118.1 L862.3,151.3 L832.1,168.1 L836.2,158.2 L815.7,149.7 Z" fill="url(#ag0)"/><g clip-path="url(#ac1)" fill="none" stroke="#fff" stroke-width="2.6" stroke-linecap="butt" stroke-linejoin="round" filter="url(#b1)"><path d="M829.1,122.6 L845.9,129.6" opacity="0.70"/><path d="M851.8,127.2 L854.4,120.9" opacity="0.10"/><path d="M851,120.7 L859.3,150" opacity="0.18"/><path d="M818.8,148.8 L829.8,122.4" opacity="0.12"/></g></g>
<g><path d="M1009.8,276.1 L1018.3,296.6 L1028.3,292.5 L1011.4,322.6 L978.2,313.2 L988.2,309.1 L979.7,288.6 Z" fill="url(#ag1)"/><g clip-path="url(#ac2)" fill="none" stroke="#fff" stroke-width="2.6" stroke-linecap="butt" stroke-linejoin="round" filter="url(#b1)"><path d="M1008.2,278.9 L1015.2,295.7" opacity="0.70"/><path d="M1021.1,298.2 L1027.4,295.6" opacity="0.10"/><path d="M1025.1,293 L1010.2,319.7" opacity="0.18"/><path d="M982.5,290.1 L1008.9,279.2" opacity="0.12"/></g></g>
<g><path d="M1027.5,515.2 L1019,535.7 L1028.9,539.9 L995.7,549.3 L978.9,519.1 L988.8,523.2 L997.3,502.7 Z" fill="url(#ag2)"/><g clip-path="url(#ac3)" fill="none" stroke="#fff" stroke-width="2.6" stroke-linecap="butt" stroke-linejoin="round" filter="url(#b1)"><path d="M1024.4,516.1 L1017.4,532.9" opacity="0.70"/><path d="M1019.8,538.8 L1026.1,541.4" opacity="0.10"/><path d="M1026.3,538 L997,546.3" opacity="0.18"/><path d="M998.2,505.8 L1024.6,516.8" opacity="0.12"/></g></g>
<g><path d="M870.9,696.8 L850.4,705.3 L854.5,715.3 L824.4,698.4 L833.8,665.2 L837.9,675.2 L858.4,666.7 Z" fill="url(#ag3)"/><g clip-path="url(#ac4)" fill="none" stroke="#fff" stroke-width="2.6" stroke-linecap="butt" stroke-linejoin="round" filter="url(#b1)"><path d="M868.1,695.2 L851.3,702.2" opacity="0.70"/><path d="M848.8,708.1 L851.4,714.4" opacity="0.10"/><path d="M854,712.1 L827.3,697.2" opacity="0.18"/><path d="M856.9,669.5 L867.8,695.9" opacity="0.12"/></g></g>
<g><path d="M631.8,714.5 L611.3,706 L607.1,715.9 L597.7,682.7 L627.9,665.9 L623.8,675.8 L644.3,684.3 Z" fill="url(#ag4)"/><g clip-path="url(#ac5)" fill="none" stroke="#fff" stroke-width="2.6" stroke-linecap="butt" stroke-linejoin="round" filter="url(#b1)"><path d="M630.9,711.4 L614.1,704.4" opacity="0.70"/><path d="M608.2,706.8 L605.6,713.1" opacity="0.10"/><path d="M609,713.3 L600.7,684" opacity="0.18"/><path d="M641.2,685.2 L630.2,711.6" opacity="0.12"/></g></g>
<g><path d="M450.2,557.9 L441.7,537.4 L431.7,541.5 L448.6,511.4 L481.8,520.8 L471.8,524.9 L480.3,545.4 Z" fill="url(#ag5)"/><g clip-path="url(#ac6)" fill="none" stroke="#fff" stroke-width="2.6" stroke-linecap="butt" stroke-linejoin="round" filter="url(#b1)"><path d="M451.8,555.1 L444.8,538.3" opacity="0.70"/><path d="M438.9,535.8 L432.6,538.4" opacity="0.10"/><path d="M434.9,541 L449.8,514.3" opacity="0.18"/><path d="M477.5,543.9 L451.1,554.8" opacity="0.12"/></g></g>
<g><path d="M432.5,318.8 L441,298.3 L431.1,294.1 L464.3,284.7 L481.1,314.9 L471.2,310.8 L462.7,331.3 Z" fill="url(#ag6)"/><g clip-path="url(#ac7)" fill="none" stroke="#fff" stroke-width="2.6" stroke-linecap="butt" stroke-linejoin="round" filter="url(#b1)"><path d="M435.6,317.9 L442.6,301.1" opacity="0.70"/><path d="M440.2,295.2 L433.9,292.6" opacity="0.10"/><path d="M433.7,296 L463,287.7" opacity="0.18"/><path d="M461.8,328.2 L435.4,317.2" opacity="0.12"/></g></g>
<g><path d="M589.1,137.2 L609.6,128.7 L605.5,118.7 L635.6,135.6 L626.2,168.8 L622.1,158.8 L601.6,167.3 Z" fill="url(#ag7)"/><g clip-path="url(#ac8)" fill="none" stroke="#fff" stroke-width="2.6" stroke-linecap="butt" stroke-linejoin="round" filter="url(#b1)"><path d="M591.9,138.8 L608.7,131.8" opacity="0.70"/><path d="M611.2,125.9 L608.6,119.6" opacity="0.10"/><path d="M606,121.9 L632.7,136.8" opacity="0.18"/><path d="M603.1,164.5 L592.2,138.1" opacity="0.12"/></g></g>
<g><path d="M677.8,216.2 L684.5,214.3 L691.2,212.6 L698,211.1 L704.8,209.9 L711.7,208.9 L718.6,208.1 L725.5,207.6 L732.5,207.3 L739.4,207.2 L746.4,207.4 L753.3,207.7 L760.2,208.3 L767.1,209.2 L774,210.3 L779.8,190.4 L794.6,231 L758.3,260.8 L764.3,240.5 L758.8,239.8 L753.2,239.2 L747.6,238.8 L742.1,238.6 L736.5,238.6 L730.9,238.8 L725.3,239.1 L719.8,239.6 L714.2,240.3 L708.7,241.1 L703.2,242.1 L697.8,243.3 L692.3,244.7 L687,246.2 Z" fill="url(#bgA)"/><g clip-path="url(#ac9)" fill="none" stroke="#fff" stroke-width="4" stroke-linecap="butt" stroke-linejoin="round" filter="url(#b1)"><path d="M681.4,218.6 L685.3,217.5 L692,215.8 L698.6,214.4 L705.4,213.2 L712.1,212.2 L718.9,211.4 L725.7,210.9 L732.6,210.6 L739.4,210.5 L746.2,210.6 L753.1,211 L759.9,211.6 L766.7,212.5 L770.8,213.1" opacity="0.90"/><path d="M778,208.3 L782.1,194.2" opacity="0.20"/><path d="M779.3,193.8 L792.1,228.7" opacity="0.95" stroke-width="2.2"/><path d="M762.5,236.7 L759.2,236.3 L753.5,235.7 L747.8,235.3 L742.1,235.1 L736.4,235.1 L730.7,235.3 L725.1,235.6 L719.4,236.1 L713.7,236.8 L708.1,237.7 L702.5,238.7 L697,239.9 L691.4,241.3 L688.2,242.2" opacity="0.30" stroke-width="3"/><path d="M689,242.5 L681.5,218.2" opacity="0.95" stroke-width="4.2"/></g></g>
<g><path d="M938.2,355.4 L940.1,362.1 L941.8,368.8 L943.3,375.6 L944.5,382.4 L945.5,389.3 L946.3,396.2 L946.8,403.1 L947.1,410.1 L947.2,417 L947,424 L946.7,430.9 L946.1,437.8 L945.2,444.7 L944.1,451.6 L964,457.4 L923.4,472.2 L893.6,435.9 L913.9,441.9 L914.6,436.4 L915.2,430.8 L915.6,425.2 L915.8,419.7 L915.8,414.1 L915.6,408.5 L915.3,402.9 L914.8,397.4 L914.1,391.8 L913.3,386.3 L912.3,380.8 L911.1,375.4 L909.7,369.9 L908.2,364.6 Z" fill="url(#bgA)"/><g clip-path="url(#ac10)" fill="none" stroke="#fff" stroke-width="4" stroke-linecap="butt" stroke-linejoin="round" filter="url(#b1)"><path d="M937.7,358.4 L938.9,362.4 L940.5,369.1 L942,375.9 L943.2,382.7 L944.2,389.5 L945,396.3 L945.5,403.2 L945.8,410.1 L945.9,417 L945.7,423.9 L945.4,430.8 L944.8,437.7 L943.9,444.5 L943.3,448.6" opacity="0.85" stroke-width="1.9"/><path d="M946.1,455.6 L960.2,459.7" opacity="0.30"/><path d="M924.1,467.7 L898.1,436.1" opacity="0.95" stroke-width="4.6"/><path d="M895.5,439.9 L910.1,444.2" opacity="0.40"/><path d="M917.5,440.1 L917.9,436.7 L918.5,431.1 L918.9,425.4 L919.1,419.7 L919.1,414 L918.9,408.4 L918.6,402.7 L918.1,397 L917.4,391.4 L916.5,385.7 L915.5,380.2 L914.3,374.6 L912.9,369.1 L912,365.8" opacity="0.85" stroke-width="4.2"/><path d="M911.9,366.6 L936.2,359.1" opacity="0.70" stroke-width="3.6"/></g></g>
<g><path d="M799,615.8 L792.3,617.7 L785.6,619.4 L778.8,620.9 L772,622.1 L765.1,623.1 L758.2,623.9 L751.3,624.4 L744.3,624.7 L737.4,624.8 L730.4,624.6 L723.5,624.3 L716.6,623.7 L709.7,622.8 L702.8,621.7 L697,641.6 L682.2,601 L718.5,571.2 L712.5,591.5 L718,592.2 L723.6,592.8 L729.2,593.2 L734.7,593.4 L740.3,593.4 L745.9,593.2 L751.5,592.9 L757,592.4 L762.6,591.7 L768.1,590.9 L773.6,589.9 L779,588.7 L784.5,587.3 L789.8,585.8 Z" fill="url(#bgA)"/><g clip-path="url(#ac11)" fill="none" stroke="#fff" stroke-width="4" stroke-linecap="butt" stroke-linejoin="round" filter="url(#b1)"><path d="M795.4,613.2 L791.4,614.3 L784.8,616 L778.1,617.4 L771.4,618.6 L764.6,619.6 L757.8,620.4 L751,620.9 L744.2,621.2 L737.4,621.3 L730.6,621.2 L723.7,620.8 L716.9,620.2 L710.2,619.3 L706.1,618.7" opacity="0.30" stroke-width="3"/><path d="M698.8,623.7 L694.7,637.8" opacity="0.50"/><path d="M699,637.7 L686.2,602.7" opacity="0.95" stroke-width="4.6"/><path d="M686.6,601.6 L718.3,575.7" opacity="0.30"/><path d="M716.1,573.6 L711.8,588.2" opacity="0.85" stroke-width="2.2"/><path d="M714.3,595.1 L717.7,595.5 L723.3,596.1 L729,596.5 L734.7,596.7 L740.4,596.7 L746,596.5 L751.7,596.2 L757.4,595.7 L763,595 L768.7,594.1 L774.2,593.1 L779.8,591.9 L785.3,590.5 L788.6,589.6" opacity="0.90"/><path d="M788.4,589.4 L795.8,613.6" opacity="0.95" stroke-width="3.4"/></g></g>
<g><path d="M538.6,476.6 L536.7,469.9 L535,463.2 L533.5,456.4 L532.3,449.6 L531.3,442.7 L530.5,435.8 L530,428.9 L529.7,421.9 L529.6,415 L529.8,408 L530.1,401.1 L530.7,394.2 L531.6,387.3 L532.7,380.4 L512.8,374.6 L553.4,359.8 L583.2,396.1 L562.9,390.1 L562.2,395.6 L561.6,401.2 L561.2,406.8 L561,412.3 L561,417.9 L561.2,423.5 L561.5,429.1 L562,434.6 L562.7,440.2 L563.5,445.7 L564.5,451.2 L565.7,456.6 L567.1,462.1 L568.6,467.4 Z" fill="url(#bgA)"/><g clip-path="url(#ac12)" fill="none" stroke="#fff" stroke-width="4" stroke-linecap="butt" stroke-linejoin="round" filter="url(#b1)"><path d="M541,473 L539.9,469.1 L538.2,462.4 L536.8,455.8 L535.6,449 L534.6,442.3 L533.8,435.5 L533.3,428.7 L533,421.8 L532.9,415 L533,408.2 L533.4,401.3 L534,394.5 L534.9,387.7 L535.5,383.6" opacity="0.55" stroke-width="4"/><path d="M530.7,376.4 L516.6,372.3" opacity="0.20"/><path d="M516.8,376.8 L551.7,364" opacity="0.90" stroke-width="4.6"/><path d="M552.8,364.2 L578.7,395.9" opacity="0.20"/><path d="M580.9,393.3 L566.3,389" opacity="0.85" stroke-width="2.6"/><path d="M561.3,392.1 L560.9,395.5 L560.3,401.1 L559.9,406.7 L559.7,412.3 L559.7,417.9 L559.9,423.6 L560.2,429.2 L560.7,434.8 L561.4,440.4 L562.2,445.9 L563.3,451.4 L564.5,456.9 L565.8,462.4 L566.8,465.6" opacity="0.95" stroke-width="1.9"/><path d="M564.8,465.1 L540.5,472.6" opacity="0.30"/></g></g>
<circle cx="744.5" cy="410" r="128.8" fill="#5A4A20" opacity="0.32" filter="url(#b2)"/>
<circle cx="743.5" cy="408.2" r="128" fill="url(#rg)"/>
<circle cx="743.5" cy="408.2" r="128" fill="url(#rgr)" mask="url(#rmask)"/>
<g font-family="Liberation Sans, sans-serif" font-weight="bold" font-size="18"><text x="730" y="56.5" font-size="18" text-anchor="middle" fill="#fff" textLength="9.6" lengthAdjust="spacingAndGlyphs">1</text><text x="729.7" y="89.8" font-size="18" text-anchor="middle" fill="#fff" textLength="91.3" lengthAdjust="spacingAndGlyphs">Clarify the</text><text x="730" y="113.8" font-size="18" text-anchor="middle" fill="#fff" textLength="74.8" lengthAdjust="spacingAndGlyphs">Problem</text><text x="957.7" y="148.5" font-size="18" text-anchor="middle" fill="#fff" textLength="9.8" lengthAdjust="spacingAndGlyphs">2</text><text x="956.5" y="171.2" font-size="18" text-anchor="middle" fill="#fff" textLength="100.7" lengthAdjust="spacingAndGlyphs">Breakdown</text><text x="956.5" y="195.2" font-size="18" text-anchor="middle" fill="#fff" textLength="29" lengthAdjust="spacingAndGlyphs">the</text><text x="956.2" y="220.2" font-size="18" text-anchor="middle" fill="#fff" textLength="75.2" lengthAdjust="spacingAndGlyphs">Problem</text><text x="1049" y="374" font-size="18" text-anchor="middle" fill="#fff" textLength="9.8" lengthAdjust="spacingAndGlyphs">3</text><text x="1050" y="410.6" font-size="18" text-anchor="middle" fill="#fff" textLength="63" lengthAdjust="spacingAndGlyphs">Set the</text><text x="1050" y="434.4" font-size="18" text-anchor="middle" fill="#fff" textLength="55" lengthAdjust="spacingAndGlyphs">Target</text><text x="952.6" y="599" font-size="18" text-anchor="middle" fill="#fff" textLength="9.8" lengthAdjust="spacingAndGlyphs">4</text><text x="956.2" y="636.5" font-size="18" text-anchor="middle" fill="#fff" textLength="105" lengthAdjust="spacingAndGlyphs">Analyze the</text><text x="956" y="660.6" font-size="18" text-anchor="middle" fill="#fff" textLength="101" lengthAdjust="spacingAndGlyphs">Root Cause</text><text x="729.7" y="690" font-size="18" text-anchor="middle" fill="#fff" textLength="9.8" lengthAdjust="spacingAndGlyphs">5</text><text x="730" y="718.5" font-size="18" text-anchor="middle" fill="#fff" textLength="73.5" lengthAdjust="spacingAndGlyphs">Develop</text><text x="730" y="742.5" font-size="18" text-anchor="middle" fill="#fff" textLength="71.5" lengthAdjust="spacingAndGlyphs">Counter</text><text x="730" y="767.5" font-size="18" text-anchor="middle" fill="#fff" textLength="86" lengthAdjust="spacingAndGlyphs">measures</text><text x="500.5" y="600" font-size="18" text-anchor="middle" fill="#fff" textLength="9.8" lengthAdjust="spacingAndGlyphs">6</text><text x="503.3" y="624.7" font-size="18" text-anchor="middle" fill="#fff" textLength="98" lengthAdjust="spacingAndGlyphs">Implement</text><text x="503.5" y="648.6" font-size="18" text-anchor="middle" fill="#fff" textLength="71.5" lengthAdjust="spacingAndGlyphs">Counter</text><text x="503" y="673.6" font-size="18" text-anchor="middle" fill="#fff" textLength="86" lengthAdjust="spacingAndGlyphs">measures</text><text x="406" y="369" font-size="18" text-anchor="middle" fill="#fff" textLength="9.8" lengthAdjust="spacingAndGlyphs">7</text><text x="409.3" y="398.5" font-size="18" text-anchor="middle" fill="#fff" textLength="74" lengthAdjust="spacingAndGlyphs">Monitor</text><text x="409" y="422.5" font-size="18" text-anchor="middle" fill="#fff" textLength="104" lengthAdjust="spacingAndGlyphs">Results and</text><text x="409" y="447.5" font-size="18" text-anchor="middle" fill="#fff" textLength="68" lengthAdjust="spacingAndGlyphs">Process</text><text x="500" y="144.3" font-size="18" text-anchor="middle" fill="#fff" textLength="9.8" lengthAdjust="spacingAndGlyphs">8</text><text x="503" y="171.5" font-size="18" text-anchor="middle" fill="#fff" textLength="107" lengthAdjust="spacingAndGlyphs">Standardize</text><text x="503" y="195.5" font-size="18" text-anchor="middle" fill="#fff" textLength="90" lengthAdjust="spacingAndGlyphs">and Share</text><text x="503" y="220" font-size="18" text-anchor="middle" fill="#fff" textLength="69" lengthAdjust="spacingAndGlyphs">Success</text></g>
<g font-family="Liberation Sans, sans-serif" font-weight="bold"><text x="743" y="354.3" font-size="33.5" text-anchor="middle" fill="#fff" textLength="72" lengthAdjust="spacingAndGlyphs">Lean</text><text x="743" y="398.4" font-size="33.5" text-anchor="middle" fill="#fff" textLength="130" lengthAdjust="spacingAndGlyphs">Problem</text><text x="743" y="442.4" font-size="33.5" text-anchor="middle" fill="#fff" textLength="112" lengthAdjust="spacingAndGlyphs">Solving</text><text x="743" y="486.5" font-size="33.5" text-anchor="middle" fill="#fff" textLength="116" lengthAdjust="spacingAndGlyphs">Process</text></g>
<g font-family="Liberation Sans, sans-serif" font-weight="bold"><g transform="translate(598.3 278) rotate(-42)"><text x="0" y="18.2" font-size="53" text-anchor="middle" fill="#000" textLength="83" lengthAdjust="spacingAndGlyphs" stroke="#000" stroke-width="1.3" stroke-linejoin="round">Act</text></g><g transform="translate(877 277.8) rotate(52)"><text x="0" y="18.2" font-size="53" text-anchor="middle" fill="#000" textLength="108" lengthAdjust="spacingAndGlyphs" stroke="#000" stroke-width="1.3" stroke-linejoin="round">Plan</text></g><g transform="translate(877 552) rotate(-38)"><text x="0" y="18.2" font-size="53" text-anchor="middle" fill="#000" textLength="69" lengthAdjust="spacingAndGlyphs" stroke="#000" stroke-width="1.3" stroke-linejoin="round">Do</text></g><g transform="translate(601.5 553) rotate(47.5)"><text x="0" y="18.2" font-size="53" text-anchor="middle" fill="#000" textLength="148" lengthAdjust="spacingAndGlyphs" stroke="#000" stroke-width="1.3" stroke-linejoin="round">Check</text></g></g>
<text x="1240.2" y="815.6" font-family="Liberation Sans, sans-serif" font-size="16.9" text-anchor="middle" fill="#595959" textLength="150.5" lengthAdjust="spacingAndGlyphs">© ASK21 Consulting</text>
<g id="icon-people" fill="#6B309E" stroke="none">
<circle cx="541.4" cy="43.9" r="5.9"/><circle cx="564.7" cy="43.9" r="5.9"/><circle cx="587.9" cy="43.9" r="5.9"/><circle cx="611.1" cy="43.9" r="5.9"/>
<g stroke="#6B309E" stroke-width="4.4" stroke-linecap="round" stroke-linejoin="round" fill="none">
<path d="M535.8,56.5 L530.2,40 M547.2,56.5 L553.1,40 L559.5,56.5 M570.2,56.5 L576.5,40 L582,56.5 M594,56.5 L600,40 L606.2,56.5 M616.8,56.5 L622.9,40"/>
</g>
<path d="M535.5,51.4 H547.4 V59.5 L550.6,83.3 H532.3 L535.5,59.5 Z"/>
<rect x="536" y="83" width="4" height="19.9"/><rect x="543" y="83" width="4.2" height="19.9"/>
<rect x="559" y="51.4" width="11.6" height="25"/>
<rect x="559" y="76" width="4" height="26.9"/><rect x="566.4" y="76" width="4.2" height="26.9"/>
<path d="M581.9,51.4 H594.3 V59.5 L597,83.3 H579.2 L581.9,59.5 Z"/>
<rect x="582.1" y="83" width="4.1" height="19.9"/><rect x="589.5" y="83" width="4.3" height="19.9"/>
<rect x="605.7" y="51.4" width="11.3" height="25"/>
<rect x="605.7" y="76" width="4.1" height="26.9"/><rect x="613" y="76" width="4" height="26.9"/>
</g>
<g id="icon-board" fill="#6B309E">
<path d="M848.2,56 V38.3 H924.9 V89.8 H883" fill="none" stroke="#6B309E" stroke-width="6.7" stroke-linejoin="round"/><path d="M884,86.45 H881.9 L876,93.15 H884 Z"/>
<circle cx="848.8" cy="70.3" r="10"/>
<path d="M826.7,102.2 C827.6,95 830,91 835,88 C840,85 845,83.1 849,83.1 C854,83.1 858.5,84.3 862.5,86.2 L879.5,67.8 A4.6,4.6 0 0 1 886.5,74.2 L861.4,102.2 Z"/>
</g>
<g id="icon-tree" fill="#6B309E">
<rect x="1037.5" y="271.2" width="16.4" height="16.2"/>
<rect x="1100.2" y="239.9" width="16.5" height="16.2"/>
<rect x="1100.2" y="271.2" width="16.5" height="16.2"/>
<rect x="1100.2" y="302.8" width="16.5" height="16.2"/>
<path d="M1058.2,279.3 H1095.4 M1095.4,248.1 H1077 V310.7 H1095.4" fill="none" stroke="#6B309E" stroke-width="4.6"/>
</g>
<g id="icon-target" fill="none" stroke="#6B309E">
<circle cx="1087.2" cy="561" r="37.2" stroke-width="6.6"/>
<circle cx="1087.2" cy="561" r="25.4" stroke-width="4.6"/>
<circle cx="1087.2" cy="561" r="6.9" stroke-width="4.6"/>
<path d="M1087.2,513.6 V546.9 M1087.2,575.3 V608.5 M1039.5,561 H1073.1 M1101.5,561 H1134.8" stroke-width="5"/>
</g>
<g id="icon-magnifier" fill="none" stroke="#6B309E" stroke-linecap="round" stroke-linejoin="round">
<circle cx="879.8" cy="758" r="31.5" stroke-width="7"/>
<path d="M858.5,784.5 L850,794" stroke-width="6.5"/>
<path d="M850.5,793.5 L835,811" stroke-width="15"/>
<path d="M876.9,734.5 L877.6,742.4 L894.9,747.7 L862.5,756.7 L888.4,764.4 L872.9,771.1 L880,776.9 L881.2,782" stroke-width="4.3" stroke-linecap="butt" stroke-linejoin="round"/>
</g>
<g id="icon-flask" fill="#6B309E">
<circle cx="574" cy="736.4" r="4.5"/><circle cx="571.8" cy="723.5" r="3.4"/><circle cx="584.6" cy="725.9" r="3.4"/><circle cx="578.6" cy="715.4" r="3.4"/>
<path fill-rule="evenodd" d="M564.5,743.2 H588.6 Q590.6,743.2 590.6,745.2 V746.3 Q590.6,748.3 588.6,748.3 H586.1 V771.9 L598.8,805 Q601.5,814.2 593,814.2 H560 Q551.5,814.2 554.2,805 L567.4,771.9 V748.3 H564.5 Q562.5,748.3 562.5,746.3 V745.2 Q562.5,743.2 564.5,743.2 Z M571.9,748.3 V758.7 H581.6 V748.3 Z"/>
</g>
<g id="icon-bulb" fill="none" stroke="#6B309E" stroke-linecap="round" stroke-linejoin="round">
<path d="M368.7,512 V520.5 M337.3,525.7 L343,531.8 M400.5,525.7 L394.2,531.8 M324.7,555.8 H332.9 M404.3,555.8 H412.7 M337.3,585.6 L343,580.2 M394.2,579.6 L400.7,585.8" stroke-width="4.4"/>
<path d="M355.5,584.5 H382 L390,570.5 A25.8,25.8 0 1 0 347.5,570.5 Z" stroke-width="6"/>
<path d="M358.5,595.8 H379" stroke-width="6.4"/>
</g>
<g id="icon-bulb2" fill="#6B309E">
<path d="M361.5,603.6 H375.9 A7.2,6.9 0 0 1 361.5,603.6 Z"/>
<path fill-rule="evenodd" d="M366.4,542.6 L371.0,542.6 L371.1,545.9 L374.0,547.1 L376.4,544.8 L379.7,548.1 L377.4,550.5 L378.6,553.4 L381.9,553.5 L381.9,558.1 L378.6,558.2 L377.4,561.1 L379.7,563.5 L376.4,566.8 L374.0,564.5 L371.1,565.7 L371.0,569.0 L366.4,569.0 L366.3,565.7 L363.4,564.5 L361.0,566.8 L357.7,563.5 L360.0,561.1 L358.8,558.2 L355.5,558.1 L355.5,553.5 L358.8,553.4 L360.0,550.5 L357.7,548.1 L361.0,544.8 L363.4,547.1 L366.3,545.9 Z M373.4,555.8 A4.7,4.7 0 1 0 364,555.8 A4.7,4.7 0 1 0 373.4,555.8 Z"/>
</g>
<g id="icon-heart">
<path fill="#6B309E" d="M369.5,318 C352,302 330.2,285 330.2,265 C330.2,251 340,242.8 350.5,242.8 C359,242.8 365.5,248 369.5,258 C373.5,248 380.5,242.8 389,242.8 C399.5,242.8 409.3,251 409.3,265 C409.3,285 387,302 369.5,318 Z"/>
<path fill="none" stroke="#F7EFD8" stroke-width="4.2" stroke-linejoin="round" d="M340.1,280.4 H352.6 L359.2,261 L367.1,300.5 L378.1,269.5 L384.3,290 L392.8,280.4 H399.4"/>
</g>

</svg>
</body></html>
